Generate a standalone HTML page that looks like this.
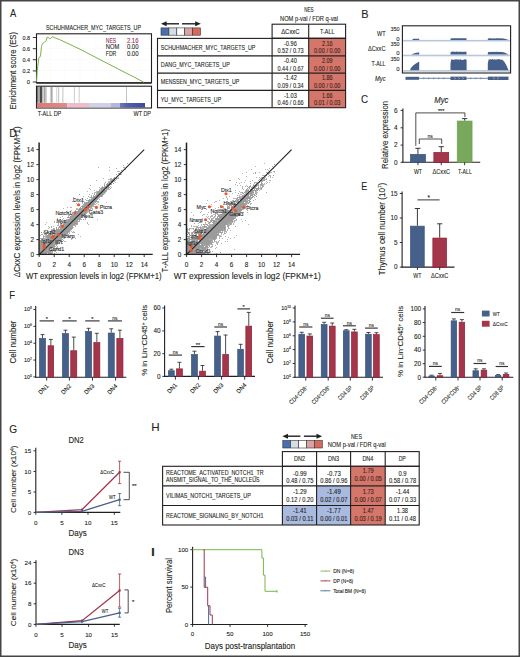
<!DOCTYPE html>
<html><head><meta charset="utf-8"><title>Figure</title>
<style>
html,body{margin:0;padding:0;background:#fff;}
svg{display:block;font-family:"Liberation Sans",sans-serif;}
text{stroke:#231f20;stroke-width:0.1px;}

</style></head><body>
<svg width="520" height="657" viewBox="0 0 520 657" fill="#231f20">
<rect x="0" y="0" width="520" height="657" fill="#ffffff"/>
<text font-size="11.4" transform="translate(9.88,17.00) scale(0.822,1)">A</text>
<text x="93.50" y="29.67" font-size="6.85" text-anchor="middle" textLength="95.00" lengthAdjust="spacingAndGlyphs">SCHUHMACHER_MYC_TARGETS_UP</text>
<line x1="50.00" y1="34.30" x2="50.00" y2="82.30" stroke="#f5f5f5" stroke-width="0.4" />
<line x1="65.00" y1="34.30" x2="65.00" y2="82.30" stroke="#f5f5f5" stroke-width="0.4" />
<line x1="80.00" y1="34.30" x2="80.00" y2="82.30" stroke="#f5f5f5" stroke-width="0.4" />
<line x1="95.00" y1="34.30" x2="95.00" y2="82.30" stroke="#f5f5f5" stroke-width="0.4" />
<line x1="110.00" y1="34.30" x2="110.00" y2="82.30" stroke="#f5f5f5" stroke-width="0.4" />
<line x1="125.00" y1="34.30" x2="125.00" y2="82.30" stroke="#f5f5f5" stroke-width="0.4" />
<line x1="140.00" y1="34.30" x2="140.00" y2="82.30" stroke="#f5f5f5" stroke-width="0.4" />
<line x1="37.00" y1="37.60" x2="151.00" y2="37.60" stroke="#f5f5f5" stroke-width="0.4" />
<line x1="37.00" y1="48.60" x2="151.00" y2="48.60" stroke="#f5f5f5" stroke-width="0.4" />
<line x1="37.00" y1="59.50" x2="151.00" y2="59.50" stroke="#f5f5f5" stroke-width="0.4" />
<line x1="37.00" y1="70.60" x2="151.00" y2="70.60" stroke="#f5f5f5" stroke-width="0.4" />
<rect x="36.50" y="33.80" width="115.00" height="49.00" fill="none" stroke="#231f20" stroke-width="1.1" />
<line x1="36.50" y1="82.90" x2="151.50" y2="82.90" stroke="#333" stroke-width="1.6" />
<line x1="32.80" y1="37.50" x2="36.50" y2="37.50" stroke="#231f20" stroke-width="0.9" />
<text x="30.00" y="39.58" font-size="5.78" text-anchor="end" textLength="7.60" lengthAdjust="spacingAndGlyphs">0.8</text>
<line x1="32.80" y1="48.70" x2="36.50" y2="48.70" stroke="#231f20" stroke-width="0.9" />
<text x="30.00" y="50.78" font-size="5.78" text-anchor="end" textLength="7.60" lengthAdjust="spacingAndGlyphs">0.6</text>
<line x1="32.80" y1="59.70" x2="36.50" y2="59.70" stroke="#231f20" stroke-width="0.9" />
<text x="30.00" y="61.78" font-size="5.78" text-anchor="end" textLength="7.60" lengthAdjust="spacingAndGlyphs">0.4</text>
<line x1="32.80" y1="70.90" x2="36.50" y2="70.90" stroke="#231f20" stroke-width="0.9" />
<text x="30.00" y="72.98" font-size="5.78" text-anchor="end" textLength="7.60" lengthAdjust="spacingAndGlyphs">0.2</text>
<line x1="32.80" y1="82.00" x2="36.50" y2="82.00" stroke="#231f20" stroke-width="0.9" />
<text x="30.00" y="84.08" font-size="5.78" text-anchor="end">0</text>
<text x="13.50" y="73.63" font-size="8.13" text-anchor="middle" textLength="77.50" lengthAdjust="spacingAndGlyphs" transform="rotate(-90 13.50 70.70)">Enrichment score (ES)</text>
<polyline points="36.5,81.6 37.2,70.7 38.3,62.6 38.7,58.0 39.8,57.4 40.6,55.1 41.5,46.5 42.5,43.6 44.4,42.4 46.1,40.7 47.1,37.2 48.5,37.5 49.4,38.6 50.8,38.4 52.5,36.7 54.8,37.8 59.4,39.5 80.0,49.2 100.0,59.6 126.0,73.0 135.0,77.5 143.8,82.3" fill="none" stroke="#79b34a" stroke-width="1"/>
<text x="105.80" y="43.19" font-size="6.63" textLength="10.40" lengthAdjust="spacingAndGlyphs" fill="#9b2f55" style="stroke:#9b2f55">NES</text>
<text x="126.90" y="43.19" font-size="6.63" textLength="11.60" lengthAdjust="spacingAndGlyphs" fill="#9b2f55" style="stroke:#9b2f55">2.16</text>
<text x="105.80" y="49.39" font-size="6.63" textLength="13.40" lengthAdjust="spacingAndGlyphs">NOM</text>
<text x="126.90" y="49.39" font-size="6.63" textLength="11.60" lengthAdjust="spacingAndGlyphs">0.00</text>
<text x="105.80" y="55.59" font-size="6.63" textLength="10.40" lengthAdjust="spacingAndGlyphs">FDR</text>
<text x="126.90" y="55.59" font-size="6.63" textLength="11.60" lengthAdjust="spacingAndGlyphs">0.00</text>
<rect x="36.50" y="86.20" width="115.00" height="21.80" fill="none" stroke="#231f20" stroke-width="1.1" />
<defs><linearGradient id="gb" x1="0" x2="1" y1="0" y2="0"><stop offset="0" stop-color="#7078ba"/><stop offset="0.3" stop-color="#5260a8"/><stop offset="1" stop-color="#3c4a9a"/></linearGradient><linearGradient id="gr" x1="0" x2="1" y1="0" y2="0"><stop offset="0" stop-color="#da7a74"/><stop offset="1" stop-color="#e08c88"/></linearGradient></defs>
<rect x="36.90" y="103.00" width="30.40" height="4.50" fill="url(#gr)" />
<rect x="67.30" y="103.00" width="21.70" height="4.50" fill="#eebccb" />
<rect x="89.00" y="103.00" width="21.50" height="4.50" fill="#d0d0e6" />
<rect x="110.50" y="103.00" width="9.50" height="4.50" fill="#b6b6da" />
<rect x="120.00" y="103.00" width="25.00" height="4.50" fill="url(#gb)" />
<line x1="37.60" y1="86.80" x2="37.60" y2="102.80" stroke="#222" stroke-width="0.6" />
<line x1="38.10" y1="86.80" x2="38.10" y2="102.80" stroke="#333" stroke-width="0.5" />
<line x1="38.80" y1="86.80" x2="38.80" y2="102.80" stroke="#888" stroke-width="0.5" />
<line x1="39.50" y1="86.80" x2="39.50" y2="102.80" stroke="#999" stroke-width="0.4" />
<line x1="40.20" y1="86.80" x2="40.20" y2="102.80" stroke="#111" stroke-width="0.7" />
<line x1="40.90" y1="86.80" x2="40.90" y2="102.80" stroke="#000" stroke-width="0.8" />
<line x1="41.60" y1="86.80" x2="41.60" y2="102.80" stroke="#111" stroke-width="0.7" />
<line x1="42.20" y1="86.80" x2="42.20" y2="102.80" stroke="#666" stroke-width="0.4" />
<line x1="43.00" y1="86.80" x2="43.00" y2="102.80" stroke="#888" stroke-width="0.5" />
<line x1="44.30" y1="86.80" x2="44.30" y2="102.80" stroke="#555" stroke-width="0.5" />
<line x1="44.90" y1="86.80" x2="44.90" y2="102.80" stroke="#666" stroke-width="0.5" />
<line x1="45.70" y1="86.80" x2="45.70" y2="102.80" stroke="#999" stroke-width="0.5" />
<line x1="46.40" y1="86.80" x2="46.40" y2="102.80" stroke="#aaa" stroke-width="0.5" />
<line x1="50.40" y1="86.80" x2="50.40" y2="102.80" stroke="#aaa" stroke-width="0.5" />
<line x1="51.20" y1="86.80" x2="51.20" y2="102.80" stroke="#999" stroke-width="0.5" />
<line x1="51.80" y1="86.80" x2="51.80" y2="102.80" stroke="#666" stroke-width="0.6" />
<line x1="52.40" y1="86.80" x2="52.40" y2="102.80" stroke="#aaa" stroke-width="0.5" />
<line x1="56.50" y1="86.80" x2="56.50" y2="102.80" stroke="#bbb" stroke-width="0.5" />
<line x1="58.30" y1="86.80" x2="58.30" y2="102.80" stroke="#999" stroke-width="0.5" />
<line x1="58.80" y1="86.80" x2="58.80" y2="102.80" stroke="#aaa" stroke-width="0.4" />
<line x1="62.50" y1="86.80" x2="62.50" y2="102.80" stroke="#bbb" stroke-width="0.5" />
<line x1="63.30" y1="86.80" x2="63.30" y2="102.80" stroke="#c4c4c4" stroke-width="0.5" />
<line x1="74.40" y1="86.80" x2="74.40" y2="102.80" stroke="#999" stroke-width="0.5" />
<line x1="79.20" y1="86.80" x2="79.20" y2="102.80" stroke="#999" stroke-width="0.5" />
<line x1="126.50" y1="86.80" x2="126.50" y2="102.80" stroke="#888" stroke-width="0.5" />
<text x="37.70" y="116.39" font-size="6.63" textLength="23.60" lengthAdjust="spacingAndGlyphs">T-ALL DP</text>
<text x="151.00" y="116.39" font-size="6.63" text-anchor="end" textLength="17.50" lengthAdjust="spacingAndGlyphs">WT DP</text>
<line x1="164.00" y1="23.80" x2="179.00" y2="23.80" stroke="#231f20" stroke-width="1.4" />
<path d="M161.0,23.8 L166.6,21.3 L166.6,26.3 Z" stroke="none" stroke-width="1" fill="#231f20" />
<line x1="182.00" y1="23.80" x2="198.00" y2="23.80" stroke="#231f20" stroke-width="1.4" />
<path d="M200.8,23.8 L195.2,21.3 L195.2,26.3 Z" stroke="none" stroke-width="1" fill="#231f20" />
<rect x="161.00" y="27.90" width="7.90" height="7.30" fill="#4a6fb0" stroke="#333" stroke-width="0.6" />
<rect x="168.90" y="27.90" width="7.90" height="7.30" fill="#d5dde6" stroke="#333" stroke-width="0.6" />
<rect x="176.80" y="27.90" width="7.90" height="7.30" fill="#ffffff" stroke="#333" stroke-width="0.6" />
<rect x="184.70" y="27.90" width="7.90" height="7.30" fill="#d9a3a3" stroke="#333" stroke-width="0.6" />
<rect x="192.60" y="27.90" width="7.90" height="7.30" fill="#d8695a" stroke="#333" stroke-width="0.6" />
<text x="308.90" y="12.49" font-size="6.63" text-anchor="middle" textLength="9.50" lengthAdjust="spacingAndGlyphs">NES</text>
<text x="309.00" y="20.61" font-size="6.42" text-anchor="middle" textLength="58.00" lengthAdjust="spacingAndGlyphs">NOM p-val / FDR q-val</text>
<rect x="272.10" y="24.20" width="73.50" height="14.00" fill="none" stroke="#231f20" stroke-width="1.1" />
<line x1="308.70" y1="24.20" x2="308.70" y2="38.20" stroke="#231f20" stroke-width="1.1" />
<text x="290.40" y="33.91" font-size="6.42" text-anchor="middle" textLength="18.50" lengthAdjust="spacingAndGlyphs">ΔCxxC</text>
<text x="327.20" y="33.91" font-size="6.42" text-anchor="middle" textLength="14.50" lengthAdjust="spacingAndGlyphs">T-ALL</text>
<rect x="308.70" y="38.40" width="36.90" height="17.40" fill="#d4776a" />
<text x="160.80" y="49.77" font-size="6.85" textLength="94.50" lengthAdjust="spacingAndGlyphs">SCHUHMACHER_MYC_TARGETS_UP</text>
<text x="290.40" y="45.59" font-size="6.63" text-anchor="middle" textLength="12.80" lengthAdjust="spacingAndGlyphs">-0.96</text>
<text x="290.60" y="53.19" font-size="6.63" text-anchor="middle" textLength="26.20" lengthAdjust="spacingAndGlyphs">0.52 / 0.73</text>
<text x="327.20" y="45.59" font-size="6.63" text-anchor="middle" textLength="10.60" lengthAdjust="spacingAndGlyphs" fill="#3b1c1a" style="stroke:#3b1c1a">2.16</text>
<text x="327.20" y="53.19" font-size="6.63" text-anchor="middle" textLength="26.50" lengthAdjust="spacingAndGlyphs" fill="#3b1c1a" style="stroke:#3b1c1a">0.00 / 0.00</text>
<rect x="308.70" y="55.80" width="36.90" height="17.30" fill="#d4776a" />
<text x="160.80" y="67.12" font-size="6.85" textLength="69.00" lengthAdjust="spacingAndGlyphs">DANG_MYC_TARGETS_UP</text>
<text x="290.40" y="62.94" font-size="6.63" text-anchor="middle" textLength="12.80" lengthAdjust="spacingAndGlyphs">-0.40</text>
<text x="290.60" y="70.54" font-size="6.63" text-anchor="middle" textLength="26.20" lengthAdjust="spacingAndGlyphs">0.44 / 0.67</text>
<text x="327.20" y="62.94" font-size="6.63" text-anchor="middle" textLength="10.60" lengthAdjust="spacingAndGlyphs" fill="#3b1c1a" style="stroke:#3b1c1a">2.09</text>
<text x="327.20" y="70.54" font-size="6.63" text-anchor="middle" textLength="26.50" lengthAdjust="spacingAndGlyphs" fill="#3b1c1a" style="stroke:#3b1c1a">0.00 / 0.00</text>
<rect x="308.70" y="73.10" width="36.90" height="17.30" fill="#d4776a" />
<text x="160.80" y="84.42" font-size="6.85" textLength="78.50" lengthAdjust="spacingAndGlyphs">MENSSEN_MYC_TARGETS_UP</text>
<text x="290.40" y="80.24" font-size="6.63" text-anchor="middle" textLength="12.80" lengthAdjust="spacingAndGlyphs">-1.42</text>
<text x="290.60" y="87.84" font-size="6.63" text-anchor="middle" textLength="26.20" lengthAdjust="spacingAndGlyphs">0.09 / 0.34</text>
<text x="327.20" y="80.24" font-size="6.63" text-anchor="middle" textLength="10.60" lengthAdjust="spacingAndGlyphs" fill="#3b1c1a" style="stroke:#3b1c1a">1.86</text>
<text x="327.20" y="87.84" font-size="6.63" text-anchor="middle" textLength="26.50" lengthAdjust="spacingAndGlyphs" fill="#3b1c1a" style="stroke:#3b1c1a">0.00 / 0.00</text>
<rect x="308.70" y="90.40" width="36.90" height="17.30" fill="#d4776a" />
<text x="160.80" y="101.72" font-size="6.85" textLength="60.50" lengthAdjust="spacingAndGlyphs">YU_MYC_TARGETS_UP</text>
<text x="290.40" y="97.54" font-size="6.63" text-anchor="middle" textLength="12.80" lengthAdjust="spacingAndGlyphs">-1.03</text>
<text x="290.60" y="105.14" font-size="6.63" text-anchor="middle" textLength="26.20" lengthAdjust="spacingAndGlyphs">0.46 / 0.66</text>
<text x="327.20" y="97.54" font-size="6.63" text-anchor="middle" textLength="10.60" lengthAdjust="spacingAndGlyphs" fill="#3b1c1a" style="stroke:#3b1c1a">1.66</text>
<text x="327.20" y="105.14" font-size="6.63" text-anchor="middle" textLength="26.50" lengthAdjust="spacingAndGlyphs" fill="#3b1c1a" style="stroke:#3b1c1a">0.01 / 0.03</text>
<rect x="157.50" y="38.40" width="188.10" height="69.30" fill="none" stroke="#231f20" stroke-width="1.1" />
<line x1="157.50" y1="55.80" x2="345.60" y2="55.80" stroke="#231f20" stroke-width="1.2" />
<line x1="157.50" y1="73.10" x2="345.60" y2="73.10" stroke="#231f20" stroke-width="1.2" />
<line x1="157.50" y1="90.40" x2="345.60" y2="90.40" stroke="#231f20" stroke-width="1.2" />
<line x1="272.10" y1="38.40" x2="272.10" y2="107.70" stroke="#231f20" stroke-width="1.1" />
<line x1="308.70" y1="38.40" x2="308.70" y2="107.70" stroke="#231f20" stroke-width="1.1" />
<text font-size="11.4" transform="translate(361.30,17.50) scale(0.958,1)">B</text>
<rect x="402.40" y="25.80" width="108.20" height="47.20" fill="none" stroke="#231f20" stroke-width="1.1" />
<text x="385.50" y="35.99" font-size="6.63" text-anchor="end" textLength="8.50" lengthAdjust="spacingAndGlyphs">WT</text>
<text x="385.50" y="51.49" font-size="6.63" text-anchor="end" textLength="17.50" lengthAdjust="spacingAndGlyphs">ΔCxxC</text>
<text x="385.50" y="66.19" font-size="6.63" text-anchor="end" textLength="14.00" lengthAdjust="spacingAndGlyphs">T-ALL</text>
<text x="385.50" y="80.59" font-size="6.63" text-anchor="end" textLength="10.50" lengthAdjust="spacingAndGlyphs" font-style="italic">Myc</text>
<text x="399.50" y="30.76" font-size="5.99" text-anchor="end" textLength="9.00" lengthAdjust="spacingAndGlyphs">350</text>
<text x="399.50" y="46.26" font-size="5.99" text-anchor="end" textLength="9.00" lengthAdjust="spacingAndGlyphs">350</text>
<text x="399.50" y="60.76" font-size="5.99" text-anchor="end" textLength="9.00" lengthAdjust="spacingAndGlyphs">350</text>
<text x="399.50" y="40.76" font-size="5.99" text-anchor="end">0</text>
<text x="399.50" y="55.16" font-size="5.99" text-anchor="end">0</text>
<text x="399.50" y="71.06" font-size="5.99" text-anchor="end">0</text>
<rect x="403.00" y="39.90" width="107.00" height="1.60" fill="#b7c7dc" />
<rect x="403.00" y="54.70" width="107.00" height="1.60" fill="#b7c7dc" />
<rect x="403.00" y="70.10" width="107.00" height="1.60" fill="#b7c7dc" />
<path d="M412.50,39.90 L412.50,39.18 L413.24,38.72 L413.99,38.73 L414.73,38.79 L415.48,38.76 L416.22,38.77 L416.97,38.74 L417.71,38.73 L418.46,38.81 L419.20,38.82 L419.20,39.90 Z" stroke="none" stroke-width="1" fill="#47608a" />
<path d="M450.50,39.90 L450.50,38.88 L451.26,38.21 L452.02,38.36 L452.79,38.36 L453.55,38.23 L454.31,38.24 L455.07,38.26 L455.83,38.32 L456.60,38.27 L457.36,38.27 L458.12,38.27 L458.88,38.34 L459.64,38.30 L460.40,38.30 L461.17,38.25 L461.93,38.20 L462.69,38.21 L463.45,38.28 L464.21,38.29 L464.98,38.32 L465.74,38.36 L466.50,38.37 L466.50,39.90 Z" stroke="none" stroke-width="1" fill="#47608a" />
<path d="M487.80,39.90 L487.80,38.94 L488.60,38.35 L489.39,38.37 L490.19,38.34 L490.98,38.34 L491.78,38.40 L492.58,38.41 L493.37,38.32 L494.17,38.38 L494.97,38.39 L495.76,38.30 L496.56,38.36 L497.35,38.32 L498.15,38.36 L498.95,38.34 L499.74,38.40 L500.54,38.34 L501.33,38.34 L502.13,38.44 L502.93,38.50 L503.72,38.62 L504.52,38.81 L505.32,38.92 L506.11,39.13 L506.91,39.37 L507.70,39.63 L508.50,39.90 L508.50,39.90 Z" stroke="none" stroke-width="1" fill="#47608a" />
<path d="M411.50,54.60 L411.50,54.60 L412.27,54.02 L413.04,53.70 L413.81,53.48 L414.58,53.28 L415.35,53.05 L416.12,52.79 L416.89,52.64 L417.66,52.48 L418.43,52.42 L419.20,52.29 L419.20,54.60 Z" stroke="none" stroke-width="1" fill="#47608a" />
<path d="M450.50,54.60 L450.50,52.80 L451.26,51.68 L452.02,51.66 L452.79,51.62 L453.55,51.68 L454.31,51.62 L455.07,51.89 L455.83,51.76 L456.60,51.62 L457.36,51.71 L458.12,51.63 L458.88,51.87 L459.64,51.76 L460.40,51.83 L461.17,51.74 L461.93,51.73 L462.69,51.90 L463.45,51.83 L464.21,51.82 L464.98,51.63 L465.74,51.67 L466.50,51.85 L466.50,54.60 Z" stroke="none" stroke-width="1" fill="#47608a" />
<path d="M487.80,54.60 L487.80,52.92 L488.60,51.83 L489.39,51.90 L490.19,51.94 L490.98,52.00 L491.78,51.87 L492.58,51.90 L493.37,51.85 L494.17,51.92 L494.97,51.85 L495.76,51.94 L496.56,51.84 L497.35,51.85 L498.15,51.91 L498.95,51.89 L499.74,51.86 L500.54,51.96 L501.33,51.94 L502.13,51.99 L502.93,52.23 L503.72,52.33 L504.52,52.60 L505.32,52.88 L506.11,53.28 L506.91,53.69 L507.70,54.09 L508.50,54.60 L508.50,54.60 Z" stroke="none" stroke-width="1" fill="#47608a" />
<path d="M410.00,70.20 L410.00,70.20 L410.77,68.26 L411.53,67.13 L412.30,66.47 L413.07,65.58 L413.83,65.00 L414.60,64.55 L415.37,63.76 L416.13,63.49 L416.90,62.76 L417.67,62.51 L418.43,62.04 L419.20,61.61 L419.20,70.20 Z" stroke="none" stroke-width="1" fill="#47608a" />
<path d="M450.50,70.20 L450.50,63.42 L451.27,58.94 L452.03,59.89 L452.80,59.23 L453.57,59.93 L454.33,59.75 L455.10,58.90 L455.87,59.79 L456.63,59.30 L457.40,59.51 L458.17,59.52 L458.93,59.47 L459.70,59.81 L460.47,59.09 L461.23,59.93 L462.00,59.77 L462.77,60.01 L463.53,59.73 L464.30,59.57 L465.07,59.01 L465.83,59.60 L466.60,59.90 L466.60,70.20 Z" stroke="none" stroke-width="1" fill="#47608a" />
<path d="M487.80,70.20 L487.80,63.42 L488.60,59.40 L489.39,59.58 L490.19,59.01 L490.98,59.69 L491.78,59.29 L492.58,58.98 L493.37,59.63 L494.17,59.25 L494.97,59.20 L495.76,59.66 L496.56,59.39 L497.35,59.13 L498.15,59.33 L498.95,59.12 L499.74,59.57 L500.54,59.52 L501.33,59.80 L502.13,59.87 L502.93,60.16 L503.72,61.19 L504.52,62.08 L505.32,63.48 L506.11,64.72 L506.91,66.52 L507.70,68.23 L508.50,70.20 L508.50,70.20 Z" stroke="none" stroke-width="1" fill="#47608a" />
<line x1="418.80" y1="78.30" x2="487.80" y2="78.30" stroke="#47608a" stroke-width="0.8" />
<rect x="405.50" y="76.80" width="13.50" height="3.00" fill="#47608a" />
<rect x="450.50" y="76.60" width="16.00" height="3.40" fill="#47608a" />
<rect x="487.80" y="76.60" width="20.70" height="3.40" fill="#47608a" />
<path d="M423.4,77.4 L424.4,78.3 L423.4,79.2" stroke="#47608a" stroke-width="0.5" fill="none" />
<path d="M428.4,77.4 L429.4,78.3 L428.4,79.2" stroke="#47608a" stroke-width="0.5" fill="none" />
<path d="M433.4,77.4 L434.4,78.3 L433.4,79.2" stroke="#47608a" stroke-width="0.5" fill="none" />
<path d="M438.4,77.4 L439.4,78.3 L438.4,79.2" stroke="#47608a" stroke-width="0.5" fill="none" />
<path d="M443.4,77.4 L444.4,78.3 L443.4,79.2" stroke="#47608a" stroke-width="0.5" fill="none" />
<path d="M470.4,77.4 L471.4,78.3 L470.4,79.2" stroke="#47608a" stroke-width="0.5" fill="none" />
<path d="M475.4,77.4 L476.4,78.3 L475.4,79.2" stroke="#47608a" stroke-width="0.5" fill="none" />
<path d="M480.4,77.4 L481.4,78.3 L480.4,79.2" stroke="#47608a" stroke-width="0.5" fill="none" />
<path d="M454.5,77.5 L455.4,78.3 L454.5,79.1" stroke="#ffffff" stroke-width="0.5" fill="none" />
<path d="M458.5,77.5 L459.4,78.3 L458.5,79.1" stroke="#ffffff" stroke-width="0.5" fill="none" />
<path d="M462.5,77.5 L463.4,78.3 L462.5,79.1" stroke="#ffffff" stroke-width="0.5" fill="none" />
<path d="M493.5,77.5 L494.4,78.3 L493.5,79.1" stroke="#ffffff" stroke-width="0.5" fill="none" />
<path d="M497.5,77.5 L498.4,78.3 L497.5,79.1" stroke="#ffffff" stroke-width="0.5" fill="none" />
<text font-size="11.4" transform="translate(361.10,102.50) scale(0.861,1)">C</text>
<text x="441.30" y="103.38" font-size="8.56" text-anchor="middle" textLength="14.20" lengthAdjust="spacingAndGlyphs" font-style="italic">Myc</text>
<line x1="402.90" y1="108.50" x2="402.90" y2="162.60" stroke="#231f20" stroke-width="1.1" />
<line x1="402.40" y1="162.30" x2="480.20" y2="162.30" stroke="#231f20" stroke-width="1.1" />
<line x1="400.60" y1="110.40" x2="402.90" y2="110.40" stroke="#231f20" stroke-width="0.9" />
<text x="397.70" y="112.71" font-size="6.42" text-anchor="end">6</text>
<line x1="400.60" y1="127.80" x2="402.90" y2="127.80" stroke="#231f20" stroke-width="0.9" />
<text x="397.70" y="130.11" font-size="6.42" text-anchor="end">4</text>
<line x1="400.60" y1="145.10" x2="402.90" y2="145.10" stroke="#231f20" stroke-width="0.9" />
<text x="397.70" y="147.41" font-size="6.42" text-anchor="end">2</text>
<line x1="400.60" y1="162.30" x2="402.90" y2="162.30" stroke="#231f20" stroke-width="0.9" />
<text x="397.70" y="164.61" font-size="6.42" text-anchor="end">0</text>
<text x="384.90" y="137.83" font-size="8.13" text-anchor="middle" textLength="68.00" lengthAdjust="spacingAndGlyphs" transform="rotate(-90 384.90 134.90)">Relative expression</text>
<line x1="417.95" y1="148.30" x2="417.95" y2="154.00" stroke="#231f20" stroke-width="0.9" />
<line x1="415.35" y1="148.30" x2="420.55" y2="148.30" stroke="#231f20" stroke-width="0.9" />
<rect x="410.45" y="154.35" width="15.00" height="7.95" fill="#47608a" stroke="#37527f" stroke-width="0.7" />
<line x1="417.95" y1="162.30" x2="417.95" y2="165.20" stroke="#231f20" stroke-width="0.9" />
<line x1="441.25" y1="146.70" x2="441.25" y2="152.10" stroke="#231f20" stroke-width="0.9" />
<line x1="438.65" y1="146.70" x2="443.85" y2="146.70" stroke="#231f20" stroke-width="0.9" />
<rect x="433.85" y="152.45" width="14.80" height="9.85" fill="#a3364a" stroke="#951b33" stroke-width="0.7" />
<line x1="441.25" y1="162.30" x2="441.25" y2="165.20" stroke="#231f20" stroke-width="0.9" />
<line x1="464.65" y1="118.60" x2="464.65" y2="120.70" stroke="#231f20" stroke-width="0.9" />
<line x1="462.05" y1="118.60" x2="467.25" y2="118.60" stroke="#231f20" stroke-width="0.9" />
<rect x="457.25" y="121.05" width="14.80" height="41.25" fill="#77a85b" stroke="#68a049" stroke-width="0.7" />
<line x1="464.65" y1="162.30" x2="464.65" y2="165.20" stroke="#231f20" stroke-width="0.9" />
<text x="418.00" y="174.11" font-size="6.42" text-anchor="middle" textLength="8.20" lengthAdjust="spacingAndGlyphs">WT</text>
<text x="441.30" y="174.11" font-size="6.42" text-anchor="middle" textLength="17.50" lengthAdjust="spacingAndGlyphs">ΔCxxC</text>
<text x="464.90" y="174.11" font-size="6.42" text-anchor="middle" textLength="14.00" lengthAdjust="spacingAndGlyphs">T-ALL</text>
<path d="M415.8,145.8 L415.8,112.9 L464.9,112.9 L464.9,117.1" stroke="#231f20" stroke-width="0.8" fill="none" />
<path d="M419.3,144.0 L419.3,139.0 L441.7,139.0 L441.7,144.0" stroke="#231f20" stroke-width="0.8" fill="none" />
<text x="441.20" y="112.88" font-size="5.78" text-anchor="middle" textLength="6.50" lengthAdjust="spacingAndGlyphs">***</text>
<text x="430.20" y="138.40" font-size="5.56" text-anchor="middle" textLength="5.40" lengthAdjust="spacingAndGlyphs">ns</text>
<text font-size="11.4" transform="translate(361.27,190.00) scale(0.778,1)">E</text>
<line x1="402.10" y1="191.50" x2="402.10" y2="267.40" stroke="#231f20" stroke-width="1.1" />
<line x1="401.60" y1="267.10" x2="454.50" y2="267.10" stroke="#231f20" stroke-width="1.1" />
<line x1="399.80" y1="193.50" x2="402.10" y2="193.50" stroke="#231f20" stroke-width="0.9" />
<text x="397.70" y="195.81" font-size="6.42" text-anchor="end">15</text>
<line x1="399.80" y1="218.00" x2="402.10" y2="218.00" stroke="#231f20" stroke-width="0.9" />
<text x="397.70" y="220.31" font-size="6.42" text-anchor="end">10</text>
<line x1="399.80" y1="242.50" x2="402.10" y2="242.50" stroke="#231f20" stroke-width="0.9" />
<text x="397.70" y="244.81" font-size="6.42" text-anchor="end">5</text>
<line x1="399.80" y1="267.10" x2="402.10" y2="267.10" stroke="#231f20" stroke-width="0.9" />
<text x="397.70" y="269.41" font-size="6.42" text-anchor="end">0</text>
<text x="381.90" y="231.93" font-size="8.13" text-anchor="middle" transform="rotate(-90 381.90 229.00)">Thymus cell number (10<tspan dy="-2.4" font-size="4.6">7</tspan><tspan dy="2.4">)</tspan></text>
<line x1="417.40" y1="208.50" x2="417.40" y2="225.80" stroke="#231f20" stroke-width="0.9" />
<line x1="414.80" y1="208.50" x2="420.00" y2="208.50" stroke="#231f20" stroke-width="0.9" />
<rect x="410.55" y="226.15" width="13.70" height="40.95" fill="#47608a" stroke="#37527f" stroke-width="0.7" />
<line x1="417.40" y1="267.10" x2="417.40" y2="270.00" stroke="#231f20" stroke-width="0.9" />
<line x1="439.70" y1="223.80" x2="439.70" y2="237.70" stroke="#231f20" stroke-width="0.9" />
<line x1="437.10" y1="223.80" x2="442.30" y2="223.80" stroke="#231f20" stroke-width="0.9" />
<rect x="432.85" y="238.05" width="13.70" height="29.05" fill="#a3364a" stroke="#951b33" stroke-width="0.7" />
<line x1="439.70" y1="267.10" x2="439.70" y2="270.00" stroke="#231f20" stroke-width="0.9" />
<line x1="417.50" y1="199.90" x2="439.60" y2="199.90" stroke="#231f20" stroke-width="0.9" />
<text x="428.70" y="199.81" font-size="6.42" text-anchor="middle">*</text>
<text x="417.40" y="278.41" font-size="6.42" text-anchor="middle" textLength="8.20" lengthAdjust="spacingAndGlyphs">WT</text>
<text x="439.70" y="278.41" font-size="6.42" text-anchor="middle" textLength="17.50" lengthAdjust="spacingAndGlyphs">ΔCxxC</text>
<text font-size="11.4" transform="translate(9.14,136.60) scale(0.920,1)">D</text>
<path d="M48 228h1v1h-1zM53 228h2v1h-2zM72 228h1v1h-1zM103 178h1v1h-1zM110 178h2v1h-2zM113 178h1v1h-1zM116 178h3v1h-3zM45 224h1v1h-1zM58 224h1v1h-1zM60 224h2v1h-2zM75 224h1v1h-1zM77 224h1v1h-1zM88 224h1v1h-1zM94 204h2v1h-2zM98 204h1v1h-1zM67 207h1v1h-1zM70 207h2v1h-2zM90 207h1v1h-1zM104 183h1v1h-1zM108 183h1v1h-1zM110 183h2v1h-2zM80 199h1v1h-1zM82 199h1v1h-1zM85 199h1v1h-1zM90 199h1v1h-1zM99 199h1v1h-1zM57 218h1v1h-1zM63 218h1v1h-1zM69 218h1v1h-1zM85 218h1v1h-1zM62 216h1v1h-1zM68 216h1v1h-1zM83 216h3v1h-3zM40 235h1v1h-1zM43 235h1v1h-1zM45 235h2v1h-2zM51 235h1v1h-1zM54 235h1v1h-1zM66 235h2v1h-2zM70 235h1v1h-1zM83 196h1v1h-1zM88 196h1v1h-1zM91 196h1v1h-1zM102 196h1v1h-1zM41 240h1v1h-1zM43 240h1v1h-1zM60 240h1v1h-1zM63 240h1v1h-1zM90 189h1v1h-1zM99 189h2v1h-2zM107 189h3v1h-3zM60 219h1v1h-1zM62 219h1v1h-1zM66 219h2v1h-2zM80 219h2v1h-2zM85 219h1v1h-1zM97 219h1v1h-1zM58 223h1v1h-1zM63 223h1v1h-1zM87 223h1v1h-1zM73 197h1v1h-1zM89 197h2v1h-2zM92 197h1v1h-1zM41 234h1v1h-1zM44 234h2v1h-2zM67 234h2v1h-2zM78 234h1v1h-1zM62 241h1v1h-1zM64 241h2v1h-2zM43 232h2v1h-2zM47 232h1v1h-1zM54 232h1v1h-1zM68 232h2v1h-2zM72 232h3v1h-3zM117 171h3v1h-3zM58 220h1v1h-1zM66 220h1v1h-1zM87 191h1v1h-1zM96 191h2v1h-2zM106 191h1v1h-1zM108 179h4v1h-4zM113 179h2v1h-2zM116 179h1v1h-1zM94 192h3v1h-3zM105 192h1v1h-1zM54 221h1v1h-1zM60 221h2v1h-2zM79 221h1v1h-1zM96 180h1v1h-1zM110 180h1v1h-1zM113 180h3v1h-3zM63 208h1v1h-1zM76 208h2v1h-2zM90 208h3v1h-3zM89 188h1v1h-1zM100 188h1v1h-1zM107 188h1v1h-1zM68 215h2v1h-2zM71 215h1v1h-1zM85 215h1v1h-1zM53 230h2v1h-2zM70 230h1v1h-1zM82 202h1v1h-1zM85 202h1v1h-1zM94 202h1v1h-1zM97 202h2v1h-2zM106 202h1v1h-1zM40 238h2v1h-2zM44 238h3v1h-3zM63 238h2v1h-2zM71 238h1v1h-1zM75 238h1v1h-1zM46 222h1v1h-1zM54 222h1v1h-1zM56 222h1v1h-1zM60 222h1v1h-1zM62 222h3v1h-3zM77 222h1v1h-1zM87 222h1v1h-1zM76 203h1v1h-1zM82 203h1v1h-1zM94 203h1v1h-1zM96 203h1v1h-1zM71 210h1v1h-1zM75 210h1v1h-1zM88 210h2v1h-2zM100 210h1v1h-1zM48 226h1v1h-1zM51 226h1v1h-1zM53 226h1v1h-1zM75 226h1v1h-1zM66 211h1v1h-1zM87 211h2v1h-2zM99 187h1v1h-1zM101 187h1v1h-1zM107 187h1v1h-1zM111 187h1v1h-1zM57 244h1v1h-1zM72 201h1v1h-1zM74 201h1v1h-1zM97 201h2v1h-2zM120 172h2v1h-2zM91 195h1v1h-1zM93 195h1v1h-1zM95 195h1v1h-1zM102 195h1v1h-1zM45 237h2v1h-2zM63 237h1v1h-1zM65 237h1v1h-1zM72 237h1v1h-1zM41 242h1v1h-1zM48 242h1v1h-1zM59 242h1v1h-1zM41 239h1v1h-1zM43 239h1v1h-1zM49 239h1v1h-1zM61 239h1v1h-1zM71 239h1v1h-1zM54 247h1v1h-1zM56 247h2v1h-2zM77 205h1v1h-1zM82 205h2v1h-2zM93 205h1v1h-1zM51 251h1v1h-1zM54 251h2v1h-2zM108 182h1v1h-1zM115 182h1v1h-1zM102 186h1v1h-1zM104 186h1v1h-1zM110 186h1v1h-1zM90 185h1v1h-1zM106 185h1v1h-1zM49 253h1v1h-1zM52 253h1v1h-1zM53 248h1v1h-1zM55 248h4v1h-4zM51 229h2v1h-2zM87 198h1v1h-1zM91 198h1v1h-1zM92 193h1v1h-1zM94 193h1v1h-1zM96 193h1v1h-1zM103 193h1v1h-1zM52 249h2v1h-2zM56 249h1v1h-1zM58 249h1v1h-1zM60 217h1v1h-1zM69 217h1v1h-1zM82 217h1v1h-1zM85 217h2v1h-2zM47 250h1v1h-1zM54 250h1v1h-1zM76 209h2v1h-2zM90 209h1v1h-1zM92 209h1v1h-1zM109 170h1v1h-1zM59 214h1v1h-1zM72 214h1v1h-1zM84 214h1v1h-1zM90 214h1v1h-1zM116 174h1v1h-1zM121 174h1v1h-1zM118 173h2v1h-2zM81 200h1v1h-1zM86 200h2v1h-2zM67 213h2v1h-2zM74 213h1v1h-1zM86 213h1v1h-1zM45 233h3v1h-3zM69 233h1v1h-1zM108 181h2v1h-2zM112 181h1v1h-1zM114 181h1v1h-1zM51 252h2v1h-2zM56 252h1v1h-1zM68 212h1v1h-1zM72 212h1v1h-1zM74 212h1v1h-1zM87 212h1v1h-1zM58 227h1v1h-1zM73 227h1v1h-1zM127 163h1v1h-1zM57 225h2v1h-2zM61 225h1v1h-1zM73 225h1v1h-1zM75 225h1v1h-1zM98 167h1v1h-1zM109 167h1v1h-1zM123 167h2v1h-2zM126 167h1v1h-1zM54 243h1v1h-1zM61 243h1v1h-1zM46 245h1v1h-1zM92 206h3v1h-3zM116 168h1v1h-1zM44 236h2v1h-2zM80 236h1v1h-1zM123 165h1v1h-1zM104 184h1v1h-1zM118 177h1v1h-1zM89 194h1v1h-1zM94 190h1v1h-1zM100 190h1v1h-1zM50 231h1v1h-1zM71 231h1v1h-1zM73 231h1v1h-1zM125 169h1v1h-1zM55 246h1v1h-1zM57 246h1v1h-1z" fill="#b4b4b4"/>
<path d="M42 239h1v1h-1zM44 239h5v1h-5zM50 239h11v1h-11zM62 239h1v1h-1zM63 224h12v1h-12zM76 224h1v1h-1zM42 234h1v1h-1zM46 234h1v1h-1zM48 234h5v1h-5zM54 234h13v1h-13zM40 246h15v1h-15zM40 245h6v1h-6zM47 245h8v1h-8zM56 245h1v1h-1zM65 222h12v1h-12zM40 248h12v1h-12zM105 182h1v1h-1zM109 182h1v1h-1zM111 182h2v1h-2zM110 181h2v1h-2zM113 181h1v1h-1zM64 221h15v1h-15zM49 227h1v1h-1zM51 227h1v1h-1zM56 227h1v1h-1zM59 227h14v1h-14zM60 225h1v1h-1zM62 225h11v1h-11zM74 225h1v1h-1zM40 249h10v1h-10zM51 249h1v1h-1zM54 249h2v1h-2zM60 223h2v1h-2zM64 223h14v1h-14zM88 201h9v1h-9zM79 208h10v1h-10zM106 184h6v1h-6zM42 238h2v1h-2zM47 238h15v1h-15zM80 207h1v1h-1zM82 207h8v1h-8zM91 207h1v1h-1zM72 213h1v1h-1zM75 213h11v1h-11zM79 194h1v1h-1zM94 194h1v1h-1zM96 194h8v1h-8zM78 210h10v1h-10zM81 206h11v1h-11zM49 233h2v1h-2zM52 233h16v1h-16zM41 232h1v1h-1zM50 232h4v1h-4zM55 232h13v1h-13zM40 244h17v1h-17zM47 231h1v1h-1zM51 231h19v1h-19zM96 195h6v1h-6zM53 229h2v1h-2zM56 229h16v1h-16zM72 215h12v1h-12zM59 226h14v1h-14zM70 216h13v1h-13zM56 228h1v1h-1zM58 228h1v1h-1zM60 228h12v1h-12zM70 218h11v1h-11zM40 252h11v1h-11zM40 242h1v1h-1zM42 242h6v1h-6zM49 242h10v1h-10zM40 243h14v1h-14zM55 243h5v1h-5zM62 243h1v1h-1zM40 247h14v1h-14zM71 214h1v1h-1zM73 214h11v1h-11zM85 214h1v1h-1zM84 205h9v1h-9zM84 202h1v1h-1zM86 202h8v1h-8zM95 202h1v1h-1zM75 212h12v1h-12zM40 251h11v1h-11zM52 251h1v1h-1zM40 253h7v1h-7zM48 253h1v1h-1zM50 253h2v1h-2zM54 253h1v1h-1zM43 236h1v1h-1zM46 236h18v1h-18zM40 241h2v1h-2zM43 241h16v1h-16zM60 241h2v1h-2zM43 237h1v1h-1zM47 237h16v1h-16zM64 237h1v1h-1zM51 230h2v1h-2zM55 230h15v1h-15zM84 203h10v1h-10zM78 209h12v1h-12zM64 220h2v1h-2zM67 220h11v1h-11zM79 220h1v1h-1zM40 240h1v1h-1zM42 240h1v1h-1zM44 240h1v1h-1zM46 240h14v1h-14zM61 240h1v1h-1zM40 250h7v1h-7zM48 250h6v1h-6zM55 250h1v1h-1zM92 198h7v1h-7zM111 180h2v1h-2zM47 235h4v1h-4zM52 235h2v1h-2zM55 235h11v1h-11zM93 196h9v1h-9zM67 217h2v1h-2zM70 217h12v1h-12zM105 186h4v1h-4zM97 192h8v1h-8zM83 204h11v1h-11zM75 211h12v1h-12zM91 197h1v1h-1zM93 197h7v1h-7zM88 200h9v1h-9zM101 188h6v1h-6zM108 188h1v1h-1zM110 188h1v1h-1zM89 199h1v1h-1zM91 199h7v1h-7zM97 193h6v1h-6zM104 193h1v1h-1zM107 183h1v1h-1zM109 183h1v1h-1zM113 183h1v1h-1zM68 219h12v1h-12zM83 219h1v1h-1zM98 191h8v1h-8zM102 187h5v1h-5zM108 187h2v1h-2zM120 174h1v1h-1zM114 178h2v1h-2zM104 185h1v1h-1zM107 185h3v1h-3zM99 190h1v1h-1zM101 190h6v1h-6zM101 189h4v1h-4zM106 189h1v1h-1zM121 170h1v1h-1zM114 177h1v1h-1zM112 179h1v1h-1z" fill="#9b9b9b"/>
<line x1="39.20" y1="254.60" x2="144.20" y2="149.60" stroke="#231f20" stroke-width="1.1" />
<line x1="39.10" y1="255.20" x2="39.10" y2="142.60" stroke="#231f20" stroke-width="1.5" />
<line x1="38.40" y1="254.40" x2="152.70" y2="254.40" stroke="#231f20" stroke-width="1.4" />
<line x1="36.40" y1="254.60" x2="38.80" y2="254.60" stroke="#231f20" stroke-width="0.9" />
<text x="34.00" y="256.91" font-size="6.42" text-anchor="end">0</text>
<line x1="39.20" y1="254.60" x2="39.20" y2="257.10" stroke="#231f20" stroke-width="0.9" />
<text x="39.20" y="266.71" font-size="6.42" text-anchor="middle">0</text>
<line x1="36.40" y1="239.60" x2="38.80" y2="239.60" stroke="#231f20" stroke-width="0.9" />
<text x="34.00" y="241.91" font-size="6.42" text-anchor="end">2</text>
<line x1="54.20" y1="254.60" x2="54.20" y2="257.10" stroke="#231f20" stroke-width="0.9" />
<text x="54.20" y="266.71" font-size="6.42" text-anchor="middle">2</text>
<line x1="36.40" y1="224.60" x2="38.80" y2="224.60" stroke="#231f20" stroke-width="0.9" />
<text x="34.00" y="226.91" font-size="6.42" text-anchor="end">4</text>
<line x1="69.20" y1="254.60" x2="69.20" y2="257.10" stroke="#231f20" stroke-width="0.9" />
<text x="69.20" y="266.71" font-size="6.42" text-anchor="middle">4</text>
<line x1="36.40" y1="209.60" x2="38.80" y2="209.60" stroke="#231f20" stroke-width="0.9" />
<text x="34.00" y="211.91" font-size="6.42" text-anchor="end">6</text>
<line x1="84.20" y1="254.60" x2="84.20" y2="257.10" stroke="#231f20" stroke-width="0.9" />
<text x="84.20" y="266.71" font-size="6.42" text-anchor="middle">6</text>
<line x1="36.40" y1="194.60" x2="38.80" y2="194.60" stroke="#231f20" stroke-width="0.9" />
<text x="34.00" y="196.91" font-size="6.42" text-anchor="end">8</text>
<line x1="99.20" y1="254.60" x2="99.20" y2="257.10" stroke="#231f20" stroke-width="0.9" />
<text x="99.20" y="266.71" font-size="6.42" text-anchor="middle">8</text>
<line x1="36.40" y1="179.60" x2="38.80" y2="179.60" stroke="#231f20" stroke-width="0.9" />
<text x="34.00" y="181.91" font-size="6.42" text-anchor="end">10</text>
<line x1="114.20" y1="254.60" x2="114.20" y2="257.10" stroke="#231f20" stroke-width="0.9" />
<text x="114.20" y="266.71" font-size="6.42" text-anchor="middle">10</text>
<line x1="36.40" y1="164.60" x2="38.80" y2="164.60" stroke="#231f20" stroke-width="0.9" />
<text x="34.00" y="166.91" font-size="6.42" text-anchor="end">12</text>
<line x1="129.20" y1="254.60" x2="129.20" y2="257.10" stroke="#231f20" stroke-width="0.9" />
<text x="129.20" y="266.71" font-size="6.42" text-anchor="middle">12</text>
<line x1="36.40" y1="149.60" x2="38.80" y2="149.60" stroke="#231f20" stroke-width="0.9" />
<text x="34.00" y="151.91" font-size="6.42" text-anchor="end">14</text>
<line x1="144.20" y1="254.60" x2="144.20" y2="257.10" stroke="#231f20" stroke-width="0.9" />
<text x="144.20" y="266.71" font-size="6.42" text-anchor="middle">14</text>
<text x="17.50" y="204.83" font-size="8.13" text-anchor="middle" textLength="150.90" lengthAdjust="spacingAndGlyphs" transform="rotate(-90 17.50 201.90)">ΔCxxC expression levels in log2 (FPKM+1)</text>
<text x="26.00" y="278.53" font-size="8.13" textLength="135.50" lengthAdjust="spacingAndGlyphs">WT expression levels in log2 (FPKM+1)</text>
<circle cx="78.6" cy="204.8" r="1.55" fill="#e9552d"/>
<text x="78.50" y="201.89" font-size="5.24" text-anchor="middle" fill="#2a2a2a" style="stroke:#2a2a2a">Dtx1</text>
<circle cx="96.4" cy="207.4" r="1.55" fill="#e9552d"/>
<text x="99.80" y="208.89" font-size="5.24" fill="#2a2a2a" style="stroke:#2a2a2a">Ptcra</text>
<circle cx="88.2" cy="207.3" r="1.55" fill="#e9552d"/>
<text x="88.80" y="214.09" font-size="5.24" fill="#2a2a2a" style="stroke:#2a2a2a">Gata3</text>
<circle cx="85.3" cy="209.6" r="1.55" fill="#e9552d"/>
<text x="81.30" y="218.09" font-size="5.24" fill="#2a2a2a" style="stroke:#2a2a2a">Hes1</text>
<circle cx="74.7" cy="212.7" r="1.55" fill="#e9552d"/>
<text x="72.00" y="214.59" font-size="5.24" text-anchor="end" fill="#2a2a2a" style="stroke:#2a2a2a">Notch1</text>
<circle cx="62.5" cy="226.0" r="1.55" fill="#e9552d"/>
<text x="61.30" y="223.09" font-size="5.24" text-anchor="middle" fill="#2a2a2a" style="stroke:#2a2a2a">Myc</text>
<circle cx="58.5" cy="234.4" r="1.55" fill="#e9552d"/>
<text x="61.60" y="238.09" font-size="5.24" fill="#2a2a2a" style="stroke:#2a2a2a">Nrarp</text>
<circle cx="53.6" cy="236.1" r="1.55" fill="#e9552d"/>
<text x="49.50" y="233.99" font-size="5.24" text-anchor="middle" fill="#2a2a2a" style="stroke:#2a2a2a">Skp2</text>
<circle cx="52.4" cy="237.3" r="1.55" fill="#e9552d"/>
<circle cx="44.0" cy="245.4" r="1.55" fill="#e9552d"/>
<text x="46.60" y="242.69" font-size="5.24" text-anchor="middle" fill="#2a2a2a" style="stroke:#2a2a2a">Igf1r</text>
<circle cx="44.1" cy="247.7" r="1.55" fill="#e9552d"/>
<text x="49.00" y="251.39" font-size="5.24" fill="#2a2a2a" style="stroke:#2a2a2a">Ccnd1</text>
<text x="55.30" y="244.49" font-size="5.24" fill="#2a2a2a" style="stroke:#2a2a2a">Il7r</text>
<path d="M191 221h2v1h-2zM207 221h2v1h-2zM217 221h1v1h-1zM233 221h2v1h-2zM242 221h1v1h-1zM226 196h1v1h-1zM229 196h1v1h-1zM239 196h3v1h-3zM246 196h1v1h-1zM249 196h1v1h-1zM252 196h1v1h-1zM211 204h1v1h-1zM223 204h1v1h-1zM225 204h2v1h-2zM229 204h1v1h-1zM233 204h1v1h-1zM235 204h1v1h-1zM245 204h1v1h-1zM250 204h1v1h-1zM187 228h1v1h-1zM189 228h4v1h-4zM195 228h1v1h-1zM198 228h1v1h-1zM201 228h2v1h-2zM228 228h2v1h-2zM205 253h1v1h-1zM208 253h1v1h-1zM216 253h1v1h-1zM207 217h1v1h-1zM210 217h1v1h-1zM213 217h2v1h-2zM234 217h1v1h-1zM187 229h3v1h-3zM193 229h1v1h-1zM195 229h1v1h-1zM200 229h1v1h-1zM203 229h3v1h-3zM209 229h1v1h-1zM223 229h1v1h-1zM225 229h1v1h-1zM227 229h1v1h-1zM203 244h1v1h-1zM209 244h2v1h-2zM212 244h1v1h-1zM217 244h1v1h-1zM227 199h1v1h-1zM237 199h1v1h-1zM239 199h1v1h-1zM246 199h1v1h-1zM249 199h1v1h-1zM255 199h1v1h-1zM214 202h1v1h-1zM224 202h1v1h-1zM228 202h1v1h-1zM233 202h1v1h-1zM245 202h1v1h-1zM247 202h2v1h-2zM193 215h1v1h-1zM202 215h1v1h-1zM211 215h2v1h-2zM220 215h1v1h-1zM234 215h1v1h-1zM239 215h1v1h-1zM201 220h1v1h-1zM205 220h1v1h-1zM210 220h1v1h-1zM215 220h3v1h-3zM234 220h3v1h-3zM245 220h1v1h-1zM189 235h1v1h-1zM198 235h1v1h-1zM218 235h3v1h-3zM236 235h1v1h-1zM193 238h1v1h-1zM210 238h1v1h-1zM216 238h1v1h-1zM219 238h1v1h-1zM222 238h1v1h-1zM230 238h1v1h-1zM206 209h1v1h-1zM211 209h1v1h-1zM218 209h2v1h-2zM222 209h2v1h-2zM225 209h1v1h-1zM227 209h1v1h-1zM242 209h2v1h-2zM203 214h2v1h-2zM207 214h1v1h-1zM213 214h3v1h-3zM218 214h2v1h-2zM237 214h1v1h-1zM240 214h1v1h-1zM269 168h1v1h-1zM273 168h1v1h-1zM236 182h1v1h-1zM241 182h1v1h-1zM244 182h1v1h-1zM254 182h6v1h-6zM267 182h1v1h-1zM269 182h1v1h-1zM235 192h1v1h-1zM240 192h2v1h-2zM245 192h1v1h-1zM247 192h1v1h-1zM255 192h3v1h-3zM266 192h1v1h-1zM229 180h2v1h-2zM245 180h1v1h-1zM252 180h1v1h-1zM258 180h1v1h-1zM262 180h1v1h-1zM269 180h2v1h-2zM187 230h1v1h-1zM189 230h1v1h-1zM195 230h2v1h-2zM203 230h1v1h-1zM205 230h1v1h-1zM225 230h1v1h-1zM227 230h1v1h-1zM230 230h1v1h-1zM256 177h1v1h-1zM259 177h1v1h-1zM261 177h1v1h-1zM265 177h1v1h-1zM270 177h1v1h-1zM272 177h1v1h-1zM193 219h1v1h-1zM206 219h1v1h-1zM209 219h1v1h-1zM212 219h1v1h-1zM215 219h1v1h-1zM241 219h1v1h-1zM242 187h1v1h-1zM248 187h1v1h-1zM251 187h3v1h-3zM260 187h3v1h-3zM198 223h1v1h-1zM205 223h1v1h-1zM208 223h2v1h-2zM228 223h1v1h-1zM233 223h1v1h-1zM191 234h3v1h-3zM195 234h1v1h-1zM201 234h1v1h-1zM205 234h1v1h-1zM221 234h1v1h-1zM223 234h1v1h-1zM191 212h1v1h-1zM200 212h1v1h-1zM208 212h1v1h-1zM217 212h1v1h-1zM226 212h1v1h-1zM238 212h1v1h-1zM241 212h1v1h-1zM243 212h1v1h-1zM247 212h1v1h-1zM196 227h1v1h-1zM198 227h2v1h-2zM201 227h3v1h-3zM205 227h2v1h-2zM228 227h1v1h-1zM239 179h1v1h-1zM263 179h4v1h-4zM243 189h1v1h-1zM246 189h3v1h-3zM257 189h1v1h-1zM260 189h2v1h-2zM215 201h2v1h-2zM230 201h3v1h-3zM236 201h1v1h-1zM188 237h3v1h-3zM195 237h1v1h-1zM197 237h1v1h-1zM219 237h1v1h-1zM228 237h1v1h-1zM234 237h1v1h-1zM202 218h1v1h-1zM208 218h2v1h-2zM211 218h3v1h-3zM235 218h1v1h-1zM226 197h1v1h-1zM238 197h1v1h-1zM240 197h2v1h-2zM250 197h1v1h-1zM254 197h1v1h-1zM187 240h1v1h-1zM191 240h1v1h-1zM195 240h1v1h-1zM201 240h1v1h-1zM212 240h1v1h-1zM219 240h1v1h-1zM240 194h2v1h-2zM245 194h1v1h-1zM249 194h2v1h-2zM253 194h1v1h-1zM194 236h2v1h-2zM219 236h3v1h-3zM225 236h1v1h-1zM220 205h1v1h-1zM227 205h1v1h-1zM230 205h1v1h-1zM247 205h1v1h-1zM211 206h1v1h-1zM223 206h1v1h-1zM227 206h1v1h-1zM229 206h1v1h-1zM231 206h1v1h-1zM245 206h2v1h-2zM187 232h1v1h-1zM189 232h1v1h-1zM191 232h1v1h-1zM193 232h2v1h-2zM196 232h2v1h-2zM199 232h2v1h-2zM224 232h1v1h-1zM226 232h1v1h-1zM246 172h1v1h-1zM259 172h1v1h-1zM266 172h2v1h-2zM269 172h3v1h-3zM274 172h1v1h-1zM201 224h1v1h-1zM204 224h2v1h-2zM207 224h1v1h-1zM209 224h3v1h-3zM228 224h2v1h-2zM231 224h1v1h-1zM233 224h1v1h-1zM248 224h1v1h-1zM191 226h1v1h-1zM193 226h5v1h-5zM200 226h1v1h-1zM202 226h2v1h-2zM208 226h1v1h-1zM210 226h1v1h-1zM225 226h1v1h-1zM216 243h2v1h-2zM221 243h1v1h-1zM189 233h1v1h-1zM191 233h1v1h-1zM197 233h1v1h-1zM205 233h1v1h-1zM217 233h1v1h-1zM221 233h1v1h-1zM225 233h1v1h-1zM238 178h1v1h-1zM260 178h2v1h-2zM266 178h1v1h-1zM237 185h1v1h-1zM240 185h1v1h-1zM246 185h1v1h-1zM250 185h1v1h-1zM256 185h2v1h-2zM260 185h2v1h-2zM263 185h1v1h-1zM226 190h1v1h-1zM235 190h1v1h-1zM245 190h1v1h-1zM247 190h1v1h-1zM250 190h1v1h-1zM256 190h1v1h-1zM259 190h1v1h-1zM242 186h1v1h-1zM245 186h1v1h-1zM252 186h2v1h-2zM255 186h1v1h-1zM258 186h1v1h-1zM260 186h1v1h-1zM263 186h1v1h-1zM250 181h1v1h-1zM261 181h1v1h-1zM266 181h1v1h-1zM201 222h1v1h-1zM205 222h1v1h-1zM208 222h1v1h-1zM210 222h1v1h-1zM215 222h1v1h-1zM230 222h3v1h-3zM234 222h1v1h-1zM223 198h1v1h-1zM227 198h1v1h-1zM233 198h4v1h-4zM239 198h1v1h-1zM251 198h1v1h-1zM206 203h1v1h-1zM246 203h2v1h-2zM250 203h2v1h-2zM205 245h1v1h-1zM207 245h2v1h-2zM212 245h1v1h-1zM215 245h1v1h-1zM211 210h1v1h-1zM221 210h1v1h-1zM223 210h2v1h-2zM247 210h1v1h-1zM269 171h1v1h-1zM273 171h2v1h-2zM215 208h1v1h-1zM223 208h3v1h-3zM241 208h1v1h-1zM244 208h2v1h-2zM249 208h1v1h-1zM246 176h1v1h-1zM268 176h1v1h-1zM270 176h1v1h-1zM235 184h1v1h-1zM253 184h1v1h-1zM258 184h1v1h-1zM262 184h3v1h-3zM242 188h1v1h-1zM247 188h1v1h-1zM251 188h1v1h-1zM255 188h1v1h-1zM259 188h2v1h-2zM207 200h1v1h-1zM219 200h1v1h-1zM232 200h2v1h-2zM236 200h1v1h-1zM246 200h2v1h-2zM253 200h1v1h-1zM262 175h4v1h-4zM269 175h2v1h-2zM232 193h1v1h-1zM242 193h1v1h-1zM245 193h1v1h-1zM247 193h1v1h-1zM252 193h2v1h-2zM256 193h1v1h-1zM210 251h1v1h-1zM212 251h1v1h-1zM203 252h6v1h-6zM201 211h1v1h-1zM213 211h1v1h-1zM220 211h1v1h-1zM222 211h1v1h-1zM233 211h1v1h-1zM218 207h1v1h-1zM223 207h1v1h-1zM228 207h1v1h-1zM187 231h1v1h-1zM195 231h1v1h-1zM220 231h1v1h-1zM222 231h1v1h-1zM224 231h3v1h-3zM200 248h1v1h-1zM206 248h2v1h-2zM215 248h1v1h-1zM206 216h1v1h-1zM208 216h1v1h-1zM210 216h3v1h-3zM214 216h2v1h-2zM217 216h1v1h-1zM237 216h1v1h-1zM251 169h1v1h-1zM265 169h1v1h-1zM267 169h1v1h-1zM271 169h1v1h-1zM189 241h1v1h-1zM198 241h1v1h-1zM211 241h1v1h-1zM214 241h3v1h-3zM218 241h1v1h-1zM225 241h1v1h-1zM227 241h1v1h-1zM201 249h1v1h-1zM206 249h1v1h-1zM234 249h1v1h-1zM191 225h1v1h-1zM198 225h1v1h-1zM201 225h1v1h-1zM204 225h1v1h-1zM208 225h2v1h-2zM211 225h1v1h-1zM225 225h1v1h-1zM227 225h1v1h-1zM229 225h1v1h-1zM242 173h1v1h-1zM253 173h1v1h-1zM255 173h1v1h-1zM267 173h1v1h-1zM269 173h1v1h-1zM239 195h1v1h-1zM255 195h1v1h-1zM208 247h1v1h-1zM210 247h2v1h-2zM216 247h1v1h-1zM239 183h1v1h-1zM250 183h1v1h-1zM254 183h1v1h-1zM262 183h1v1h-1zM264 183h1v1h-1zM266 183h1v1h-1zM268 174h1v1h-1zM255 166h1v1h-1zM272 166h1v1h-1zM239 191h1v1h-1zM249 191h1v1h-1zM253 191h1v1h-1zM256 191h1v1h-1zM190 242h1v1h-1zM212 242h2v1h-2zM216 242h3v1h-3zM211 246h1v1h-1zM206 250h2v1h-2zM216 213h2v1h-2zM240 213h1v1h-1zM264 163h1v1h-1zM188 239h1v1h-1zM209 239h1v1h-1zM212 239h1v1h-1zM215 239h1v1h-1zM227 239h1v1h-1zM268 170h1v1h-1z" fill="#b4b4b4"/>
<path d="M187 245h18v1h-18zM206 245h1v1h-1zM209 245h1v1h-1zM187 244h13v1h-13zM201 244h2v1h-2zM204 244h5v1h-5zM211 244h1v1h-1zM187 247h21v1h-21zM187 251h16v1h-16zM205 251h2v1h-2zM237 195h1v1h-1zM242 195h7v1h-7zM250 195h3v1h-3zM254 195h1v1h-1zM187 242h3v1h-3zM191 242h21v1h-21zM187 248h13v1h-13zM201 248h5v1h-5zM199 229h1v1h-1zM201 229h2v1h-2zM206 229h3v1h-3zM210 229h13v1h-13zM224 229h1v1h-1zM225 210h17v1h-17zM187 239h1v1h-1zM189 239h20v1h-20zM210 239h2v1h-2zM213 239h2v1h-2zM237 198h1v1h-1zM240 198h11v1h-11zM230 204h1v1h-1zM232 204h1v1h-1zM234 204h1v1h-1zM236 204h9v1h-9zM246 204h1v1h-1zM211 213h1v1h-1zM215 213h1v1h-1zM222 213h18v1h-18zM207 225h1v1h-1zM210 225h1v1h-1zM212 225h13v1h-13zM228 225h1v1h-1zM191 237h4v1h-4zM196 237h1v1h-1zM198 237h19v1h-19zM204 226h3v1h-3zM209 226h1v1h-1zM211 226h14v1h-14zM227 226h2v1h-2zM235 226h1v1h-1zM215 215h1v1h-1zM218 215h2v1h-2zM221 215h13v1h-13zM235 215h2v1h-2zM238 215h1v1h-1zM194 230h1v1h-1zM197 230h1v1h-1zM199 230h4v1h-4zM204 230h1v1h-1zM206 230h19v1h-19zM188 232h1v1h-1zM192 232h1v1h-1zM195 232h1v1h-1zM198 232h1v1h-1zM201 232h2v1h-2zM204 232h19v1h-19zM187 250h16v1h-16zM199 222h1v1h-1zM209 222h1v1h-1zM212 222h3v1h-3zM216 222h14v1h-14zM193 228h1v1h-1zM196 228h1v1h-1zM200 228h1v1h-1zM203 228h1v1h-1zM206 228h20v1h-20zM228 206h1v1h-1zM232 206h13v1h-13zM229 205h1v1h-1zM231 205h1v1h-1zM233 205h13v1h-13zM187 238h3v1h-3zM192 238h1v1h-1zM194 238h16v1h-16zM211 238h5v1h-5zM188 233h1v1h-1zM192 233h1v1h-1zM194 233h3v1h-3zM198 233h4v1h-4zM203 233h2v1h-2zM206 233h11v1h-11zM218 233h1v1h-1zM224 233h1v1h-1zM187 243h25v1h-25zM187 253h18v1h-18zM207 253h1v1h-1zM187 246h17v1h-17zM205 246h3v1h-3zM209 246h1v1h-1zM212 246h1v1h-1zM217 217h1v1h-1zM219 217h15v1h-15zM235 217h1v1h-1zM204 219h1v1h-1zM211 219h1v1h-1zM216 219h18v1h-18zM236 219h1v1h-1zM223 211h10v1h-10zM234 211h7v1h-7zM249 188h1v1h-1zM252 188h3v1h-3zM256 188h3v1h-3zM261 188h1v1h-1zM187 241h2v1h-2zM190 241h8v1h-8zM199 241h12v1h-12zM212 241h1v1h-1zM203 224h1v1h-1zM206 224h1v1h-1zM212 224h16v1h-16zM230 224h1v1h-1zM215 218h20v1h-20zM187 252h16v1h-16zM220 252h1v1h-1zM197 227h1v1h-1zM200 227h1v1h-1zM204 227h1v1h-1zM207 227h19v1h-19zM187 236h3v1h-3zM192 236h2v1h-2zM196 236h21v1h-21zM187 234h1v1h-1zM189 234h1v1h-1zM196 234h1v1h-1zM198 234h2v1h-2zM202 234h3v1h-3zM206 234h13v1h-13zM231 202h2v1h-2zM236 202h8v1h-8zM246 202h1v1h-1zM249 202h1v1h-1zM220 209h1v1h-1zM224 209h1v1h-1zM226 209h1v1h-1zM230 209h2v1h-2zM233 209h9v1h-9zM227 208h3v1h-3zM231 208h10v1h-10zM242 208h2v1h-2zM227 207h1v1h-1zM229 207h1v1h-1zM231 207h12v1h-12zM245 207h1v1h-1zM193 231h2v1h-2zM197 231h1v1h-1zM200 231h3v1h-3zM204 231h16v1h-16zM187 249h14v1h-14zM202 249h4v1h-4zM207 249h1v1h-1zM230 203h6v1h-6zM237 203h9v1h-9zM248 203h1v1h-1zM218 216h19v1h-19zM235 200h1v1h-1zM237 200h2v1h-2zM240 200h6v1h-6zM248 200h2v1h-2zM259 181h1v1h-1zM262 181h1v1h-1zM217 214h1v1h-1zM220 214h16v1h-16zM238 214h2v1h-2zM227 201h1v1h-1zM233 201h1v1h-1zM235 201h1v1h-1zM237 201h11v1h-11zM249 201h2v1h-2zM210 221h2v1h-2zM213 221h4v1h-4zM218 221h15v1h-15zM250 189h3v1h-3zM254 189h1v1h-1zM256 189h1v1h-1zM258 189h1v1h-1zM247 186h1v1h-1zM249 186h2v1h-2zM254 186h1v1h-1zM256 186h1v1h-1zM262 186h1v1h-1zM236 199h1v1h-1zM238 199h1v1h-1zM240 199h6v1h-6zM247 199h1v1h-1zM250 199h1v1h-1zM253 185h3v1h-3zM258 185h1v1h-1zM262 185h1v1h-1zM211 220h4v1h-4zM218 220h15v1h-15zM194 223h1v1h-1zM213 223h15v1h-15zM229 223h3v1h-3zM221 212h5v1h-5zM227 212h11v1h-11zM239 212h2v1h-2zM255 184h1v1h-1zM260 184h2v1h-2zM237 197h1v1h-1zM239 197h1v1h-1zM242 197h8v1h-8zM251 197h2v1h-2zM188 240h2v1h-2zM192 240h3v1h-3zM196 240h2v1h-2zM199 240h2v1h-2zM202 240h10v1h-10zM214 240h1v1h-1zM246 190h1v1h-1zM248 190h1v1h-1zM251 190h5v1h-5zM257 190h1v1h-1zM190 235h1v1h-1zM192 235h5v1h-5zM199 235h19v1h-19zM242 196h4v1h-4zM247 196h2v1h-2zM250 196h1v1h-1zM253 196h1v1h-1zM256 196h1v1h-1zM249 187h1v1h-1zM254 187h2v1h-2zM258 187h1v1h-1zM244 194h1v1h-1zM246 194h3v1h-3zM251 194h2v1h-2zM254 194h1v1h-1zM256 194h1v1h-1zM261 182h1v1h-1zM242 192h1v1h-1zM244 192h1v1h-1zM246 192h1v1h-1zM248 192h1v1h-1zM250 192h4v1h-4zM245 191h4v1h-4zM250 191h3v1h-3zM255 191h1v1h-1zM256 183h1v1h-1zM261 183h1v1h-1zM238 193h1v1h-1zM243 193h1v1h-1zM246 193h1v1h-1zM248 193h4v1h-4zM255 193h1v1h-1zM264 178h1v1h-1zM260 180h2v1h-2zM263 180h2v1h-2zM259 179h1v1h-1zM262 177h1v1h-1zM266 175h1v1h-1zM273 175h1v1h-1zM255 172h1v1h-1zM268 173h1v1h-1zM274 164h1v1h-1z" fill="#9b9b9b"/>
<line x1="186.60" y1="254.60" x2="291.60" y2="149.60" stroke="#231f20" stroke-width="1.1" />
<line x1="186.50" y1="255.20" x2="186.50" y2="142.60" stroke="#231f20" stroke-width="1.5" />
<line x1="185.80" y1="254.40" x2="300.10" y2="254.40" stroke="#231f20" stroke-width="1.4" />
<line x1="183.80" y1="254.60" x2="186.20" y2="254.60" stroke="#231f20" stroke-width="0.9" />
<text x="181.40" y="256.91" font-size="6.42" text-anchor="end">0</text>
<line x1="186.60" y1="254.60" x2="186.60" y2="257.10" stroke="#231f20" stroke-width="0.9" />
<text x="186.60" y="266.71" font-size="6.42" text-anchor="middle">0</text>
<line x1="183.80" y1="239.60" x2="186.20" y2="239.60" stroke="#231f20" stroke-width="0.9" />
<text x="181.40" y="241.91" font-size="6.42" text-anchor="end">2</text>
<line x1="201.60" y1="254.60" x2="201.60" y2="257.10" stroke="#231f20" stroke-width="0.9" />
<text x="201.60" y="266.71" font-size="6.42" text-anchor="middle">2</text>
<line x1="183.80" y1="224.60" x2="186.20" y2="224.60" stroke="#231f20" stroke-width="0.9" />
<text x="181.40" y="226.91" font-size="6.42" text-anchor="end">4</text>
<line x1="216.60" y1="254.60" x2="216.60" y2="257.10" stroke="#231f20" stroke-width="0.9" />
<text x="216.60" y="266.71" font-size="6.42" text-anchor="middle">4</text>
<line x1="183.80" y1="209.60" x2="186.20" y2="209.60" stroke="#231f20" stroke-width="0.9" />
<text x="181.40" y="211.91" font-size="6.42" text-anchor="end">6</text>
<line x1="231.60" y1="254.60" x2="231.60" y2="257.10" stroke="#231f20" stroke-width="0.9" />
<text x="231.60" y="266.71" font-size="6.42" text-anchor="middle">6</text>
<line x1="183.80" y1="194.60" x2="186.20" y2="194.60" stroke="#231f20" stroke-width="0.9" />
<text x="181.40" y="196.91" font-size="6.42" text-anchor="end">8</text>
<line x1="246.60" y1="254.60" x2="246.60" y2="257.10" stroke="#231f20" stroke-width="0.9" />
<text x="246.60" y="266.71" font-size="6.42" text-anchor="middle">8</text>
<line x1="183.80" y1="179.60" x2="186.20" y2="179.60" stroke="#231f20" stroke-width="0.9" />
<text x="181.40" y="181.91" font-size="6.42" text-anchor="end">10</text>
<line x1="261.60" y1="254.60" x2="261.60" y2="257.10" stroke="#231f20" stroke-width="0.9" />
<text x="261.60" y="266.71" font-size="6.42" text-anchor="middle">10</text>
<line x1="183.80" y1="164.60" x2="186.20" y2="164.60" stroke="#231f20" stroke-width="0.9" />
<text x="181.40" y="166.91" font-size="6.42" text-anchor="end">12</text>
<line x1="276.60" y1="254.60" x2="276.60" y2="257.10" stroke="#231f20" stroke-width="0.9" />
<text x="276.60" y="266.71" font-size="6.42" text-anchor="middle">12</text>
<line x1="183.80" y1="149.60" x2="186.20" y2="149.60" stroke="#231f20" stroke-width="0.9" />
<text x="181.40" y="151.91" font-size="6.42" text-anchor="end">14</text>
<line x1="291.60" y1="254.60" x2="291.60" y2="257.10" stroke="#231f20" stroke-width="0.9" />
<text x="291.60" y="266.71" font-size="6.42" text-anchor="middle">14</text>
<text x="165.00" y="203.73" font-size="8.13" text-anchor="middle" textLength="143.50" lengthAdjust="spacingAndGlyphs" transform="rotate(-90 165.00 200.80)">T-ALL expression levels in log2 (FPKM+1)</text>
<text x="173.80" y="278.53" font-size="8.13" textLength="147.00" lengthAdjust="spacingAndGlyphs">WT expression levels in log2 (FPKM+1)</text>
<circle cx="226.0" cy="193.8" r="1.55" fill="#e9552d"/>
<text x="226.30" y="191.69" font-size="5.24" text-anchor="middle" fill="#2a2a2a" style="stroke:#2a2a2a">Dtx1</text>
<circle cx="209.4" cy="206.7" r="1.55" fill="#e9552d"/>
<text x="206.20" y="208.59" font-size="5.24" text-anchor="end" fill="#2a2a2a" style="stroke:#2a2a2a">Myc</text>
<circle cx="221.5" cy="206.7" r="1.55" fill="#e9552d"/>
<text x="210.40" y="213.09" font-size="5.24" fill="#2a2a2a" style="stroke:#2a2a2a">Notch1</text>
<circle cx="232.5" cy="208.0" r="1.55" fill="#e9552d"/>
<text x="229.70" y="204.79" font-size="5.24" text-anchor="middle" fill="#2a2a2a" style="stroke:#2a2a2a">Hes1</text>
<circle cx="235.4" cy="210.6" r="1.55" fill="#e9552d"/>
<text x="229.20" y="216.49" font-size="5.24" fill="#2a2a2a" style="stroke:#2a2a2a">Gata3</text>
<circle cx="243.7" cy="207.3" r="1.55" fill="#e9552d"/>
<text x="246.20" y="209.59" font-size="5.24" fill="#2a2a2a" style="stroke:#2a2a2a">Ptcra</text>
<circle cx="205.6" cy="219.8" r="1.55" fill="#e9552d"/>
<text x="202.70" y="221.69" font-size="5.24" text-anchor="end" fill="#2a2a2a" style="stroke:#2a2a2a">Nrarp</text>
<circle cx="200.4" cy="235.6" r="1.55" fill="#e9552d"/>
<text x="200.40" y="232.69" font-size="5.24" text-anchor="middle" fill="#2a2a2a" style="stroke:#2a2a2a">Skp2</text>
<circle cx="199.0" cy="237.9" r="1.55" fill="#e9552d"/>
<text x="190.80" y="239.49" font-size="5.24" fill="#2a2a2a" style="stroke:#2a2a2a">Il7r</text>
<circle cx="191.3" cy="246.5" r="1.55" fill="#e9552d"/>
<text x="187.00" y="244.59" font-size="5.24" fill="#2a2a2a" style="stroke:#2a2a2a">Igf1r</text>
<circle cx="191.3" cy="250.4" r="1.55" fill="#e9552d"/>
<text x="195.60" y="253.09" font-size="5.24" fill="#2a2a2a" style="stroke:#2a2a2a">Ccnd1</text>
<text font-size="11.4" transform="translate(9.23,299.30) scale(0.827,1)">F</text>
<line x1="35.70" y1="306.00" x2="35.70" y2="377.70" stroke="#231f20" stroke-width="1.1" />
<line x1="35.30" y1="377.30" x2="126.30" y2="377.30" stroke="#231f20" stroke-width="1.1" />
<line x1="33.40" y1="309.50" x2="35.70" y2="309.50" stroke="#231f20" stroke-width="0.9" />
<text x="31.80" y="311.44" font-size="5.4" text-anchor="end">10<tspan dy="-2.1" font-size="3.4">8</tspan></text>
<line x1="33.40" y1="326.35" x2="35.70" y2="326.35" stroke="#231f20" stroke-width="0.9" />
<text x="31.80" y="328.29" font-size="5.4" text-anchor="end">10<tspan dy="-2.1" font-size="3.4">6</tspan></text>
<line x1="33.40" y1="343.20" x2="35.70" y2="343.20" stroke="#231f20" stroke-width="0.9" />
<text x="31.80" y="345.14" font-size="5.4" text-anchor="end">10<tspan dy="-2.1" font-size="3.4">4</tspan></text>
<line x1="33.40" y1="360.05" x2="35.70" y2="360.05" stroke="#231f20" stroke-width="0.9" />
<text x="31.80" y="361.99" font-size="5.4" text-anchor="end">10<tspan dy="-2.1" font-size="3.4">2</tspan></text>
<line x1="33.40" y1="376.90" x2="35.70" y2="376.90" stroke="#231f20" stroke-width="0.9" />
<text x="31.80" y="378.84" font-size="5.4" text-anchor="end">10<tspan dy="-2.1" font-size="3.4">0</tspan></text>
<text x="13.50" y="344.97" font-size="8.24" text-anchor="middle" textLength="43.00" lengthAdjust="spacingAndGlyphs" transform="rotate(-90 13.50 342.00)">Cell number</text>
<line x1="42.50" y1="334.60" x2="42.50" y2="338.10" stroke="#231f20" stroke-width="0.8" />
<line x1="40.50" y1="334.60" x2="44.50" y2="334.60" stroke="#231f20" stroke-width="0.8" />
<rect x="39.55" y="338.45" width="5.90" height="38.85" fill="#47608a" stroke="#37527f" stroke-width="0.7" />
<line x1="50.85" y1="339.40" x2="50.85" y2="345.40" stroke="#231f20" stroke-width="0.8" />
<line x1="48.85" y1="339.40" x2="52.85" y2="339.40" stroke="#231f20" stroke-width="0.8" />
<rect x="48.05" y="345.75" width="5.60" height="31.55" fill="#a3364a" stroke="#951b33" stroke-width="0.7" />
<line x1="39.60" y1="320.90" x2="54.00" y2="320.90" stroke="#333" stroke-width="1.15" />
<text x="46.80" y="320.90" font-size="5.56" text-anchor="middle">*</text>
<line x1="46.70" y1="377.30" x2="46.70" y2="380.60" stroke="#231f20" stroke-width="0.9" />
<text x="48.90" y="386.50" font-size="6.0" text-anchor="end" transform="rotate(-45 48.90 386.50)" textLength="11.5" lengthAdjust="spacingAndGlyphs">DN1</text>
<line x1="65.45" y1="330.20" x2="65.45" y2="333.30" stroke="#231f20" stroke-width="0.8" />
<line x1="63.45" y1="330.20" x2="67.45" y2="330.20" stroke="#231f20" stroke-width="0.8" />
<rect x="62.45" y="333.65" width="6.00" height="43.65" fill="#47608a" stroke="#37527f" stroke-width="0.7" />
<line x1="73.75" y1="337.10" x2="73.75" y2="350.40" stroke="#231f20" stroke-width="0.8" />
<line x1="71.75" y1="337.10" x2="75.75" y2="337.10" stroke="#231f20" stroke-width="0.8" />
<rect x="70.75" y="350.75" width="6.00" height="26.55" fill="#a3364a" stroke="#951b33" stroke-width="0.7" />
<line x1="62.30" y1="320.90" x2="76.70" y2="320.90" stroke="#333" stroke-width="1.15" />
<text x="69.50" y="320.90" font-size="5.56" text-anchor="middle">*</text>
<line x1="69.40" y1="377.30" x2="69.40" y2="380.60" stroke="#231f20" stroke-width="0.9" />
<text x="71.60" y="386.50" font-size="6.0" text-anchor="end" transform="rotate(-45 71.60 386.50)" textLength="11.5" lengthAdjust="spacingAndGlyphs">DN2</text>
<line x1="88.55" y1="328.30" x2="88.55" y2="331.20" stroke="#231f20" stroke-width="0.8" />
<line x1="86.55" y1="328.30" x2="90.55" y2="328.30" stroke="#231f20" stroke-width="0.8" />
<rect x="85.55" y="331.55" width="6.00" height="45.75" fill="#47608a" stroke="#37527f" stroke-width="0.7" />
<line x1="96.85" y1="333.30" x2="96.85" y2="342.30" stroke="#231f20" stroke-width="0.8" />
<line x1="94.85" y1="333.30" x2="98.85" y2="333.30" stroke="#231f20" stroke-width="0.8" />
<rect x="93.85" y="342.65" width="6.00" height="34.65" fill="#a3364a" stroke="#951b33" stroke-width="0.7" />
<line x1="85.20" y1="320.90" x2="99.60" y2="320.90" stroke="#333" stroke-width="1.15" />
<text x="92.40" y="320.90" font-size="5.56" text-anchor="middle">*</text>
<line x1="92.50" y1="377.30" x2="92.50" y2="380.60" stroke="#231f20" stroke-width="0.9" />
<text x="94.70" y="386.50" font-size="6.0" text-anchor="end" transform="rotate(-45 94.70 386.50)" textLength="11.5" lengthAdjust="spacingAndGlyphs">DN3</text>
<line x1="111.25" y1="328.80" x2="111.25" y2="332.70" stroke="#231f20" stroke-width="0.8" />
<line x1="109.25" y1="328.80" x2="113.25" y2="328.80" stroke="#231f20" stroke-width="0.8" />
<rect x="108.25" y="333.05" width="6.00" height="44.25" fill="#47608a" stroke="#37527f" stroke-width="0.7" />
<line x1="119.90" y1="330.20" x2="119.90" y2="338.10" stroke="#231f20" stroke-width="0.8" />
<line x1="117.90" y1="330.20" x2="121.90" y2="330.20" stroke="#231f20" stroke-width="0.8" />
<rect x="116.85" y="338.45" width="6.10" height="38.85" fill="#a3364a" stroke="#951b33" stroke-width="0.7" />
<line x1="107.90" y1="320.90" x2="121.90" y2="320.90" stroke="#333" stroke-width="1.15" />
<text x="114.90" y="319.70" font-size="5.56" text-anchor="middle" textLength="5.20" lengthAdjust="spacingAndGlyphs">ns</text>
<line x1="115.60" y1="377.30" x2="115.60" y2="380.60" stroke="#231f20" stroke-width="0.9" />
<text x="117.80" y="386.50" font-size="6.0" text-anchor="end" transform="rotate(-45 117.80 386.50)" textLength="11.5" lengthAdjust="spacingAndGlyphs">DN4</text>
<line x1="164.60" y1="305.60" x2="164.60" y2="376.80" stroke="#231f20" stroke-width="1.1" />
<line x1="164.20" y1="376.40" x2="255.00" y2="376.40" stroke="#231f20" stroke-width="1.1" />
<line x1="162.30" y1="308.00" x2="164.60" y2="308.00" stroke="#231f20" stroke-width="0.9" />
<text x="160.60" y="310.31" font-size="6.42" text-anchor="end">60</text>
<line x1="162.30" y1="330.90" x2="164.60" y2="330.90" stroke="#231f20" stroke-width="0.9" />
<text x="160.60" y="333.21" font-size="6.42" text-anchor="end">40</text>
<line x1="162.30" y1="353.70" x2="164.60" y2="353.70" stroke="#231f20" stroke-width="0.9" />
<text x="160.60" y="356.01" font-size="6.42" text-anchor="end">20</text>
<line x1="162.30" y1="376.40" x2="164.60" y2="376.40" stroke="#231f20" stroke-width="0.9" />
<text x="160.60" y="378.71" font-size="6.42" text-anchor="end">0</text>
<text x="144.4" y="343.22" font-size="8.1" text-anchor="middle" transform="rotate(-90 144.4 340.3)" textLength="71" lengthAdjust="spacingAndGlyphs">% in Lin<tspan dy="-2.4" font-size="4.6">–</tspan><tspan dy="2.4">CD45</tspan><tspan dy="-2.4" font-size="4.6">+</tspan><tspan dy="2.4"> cells</tspan></text>
<line x1="171.35" y1="369.20" x2="171.35" y2="370.40" stroke="#231f20" stroke-width="0.8" />
<line x1="169.35" y1="369.20" x2="173.35" y2="369.20" stroke="#231f20" stroke-width="0.8" />
<rect x="168.45" y="370.75" width="5.80" height="5.65" fill="#47608a" stroke="#37527f" stroke-width="0.7" />
<line x1="179.45" y1="362.30" x2="179.45" y2="368.50" stroke="#231f20" stroke-width="0.8" />
<line x1="177.45" y1="362.30" x2="181.45" y2="362.30" stroke="#231f20" stroke-width="0.8" />
<rect x="176.55" y="368.85" width="5.80" height="7.55" fill="#a3364a" stroke="#951b33" stroke-width="0.7" />
<line x1="168.80" y1="355.10" x2="182.00" y2="355.10" stroke="#333" stroke-width="1.15" />
<text x="175.40" y="353.90" font-size="5.56" text-anchor="middle" textLength="5.20" lengthAdjust="spacingAndGlyphs">ns</text>
<line x1="175.40" y1="376.40" x2="175.40" y2="379.70" stroke="#231f20" stroke-width="0.9" />
<text x="177.60" y="385.60" font-size="6.0" text-anchor="end" transform="rotate(-45 177.60 385.60)" textLength="11.5" lengthAdjust="spacingAndGlyphs">DN1</text>
<line x1="194.45" y1="351.20" x2="194.45" y2="354.20" stroke="#231f20" stroke-width="0.8" />
<line x1="192.45" y1="351.20" x2="196.45" y2="351.20" stroke="#231f20" stroke-width="0.8" />
<rect x="191.55" y="354.55" width="5.80" height="21.85" fill="#47608a" stroke="#37527f" stroke-width="0.7" />
<line x1="202.50" y1="365.50" x2="202.50" y2="370.80" stroke="#231f20" stroke-width="0.8" />
<line x1="200.50" y1="365.50" x2="204.50" y2="365.50" stroke="#231f20" stroke-width="0.8" />
<rect x="199.65" y="371.15" width="5.70" height="5.25" fill="#a3364a" stroke="#951b33" stroke-width="0.7" />
<line x1="191.20" y1="346.60" x2="204.60" y2="346.60" stroke="#333" stroke-width="1.15" />
<text x="197.90" y="346.60" font-size="5.56" text-anchor="middle">**</text>
<line x1="198.50" y1="376.40" x2="198.50" y2="379.70" stroke="#231f20" stroke-width="0.9" />
<text x="200.70" y="385.60" font-size="6.0" text-anchor="end" transform="rotate(-45 200.70 385.60)" textLength="11.5" lengthAdjust="spacingAndGlyphs">DN2</text>
<line x1="217.55" y1="331.60" x2="217.55" y2="335.70" stroke="#231f20" stroke-width="0.8" />
<line x1="215.55" y1="331.60" x2="219.55" y2="331.60" stroke="#231f20" stroke-width="0.8" />
<rect x="214.65" y="336.05" width="5.80" height="40.35" fill="#47608a" stroke="#37527f" stroke-width="0.7" />
<line x1="225.60" y1="335.00" x2="225.60" y2="354.20" stroke="#231f20" stroke-width="0.8" />
<line x1="223.60" y1="335.00" x2="227.60" y2="335.00" stroke="#231f20" stroke-width="0.8" />
<rect x="222.75" y="354.55" width="5.70" height="21.85" fill="#a3364a" stroke="#951b33" stroke-width="0.7" />
<line x1="214.30" y1="327.00" x2="227.00" y2="327.00" stroke="#333" stroke-width="1.15" />
<text x="220.65" y="325.80" font-size="5.56" text-anchor="middle" textLength="5.20" lengthAdjust="spacingAndGlyphs">ns</text>
<line x1="221.60" y1="376.40" x2="221.60" y2="379.70" stroke="#231f20" stroke-width="0.9" />
<text x="223.80" y="385.60" font-size="6.0" text-anchor="end" transform="rotate(-45 223.80 385.60)" textLength="11.5" lengthAdjust="spacingAndGlyphs">DN3</text>
<line x1="240.60" y1="344.30" x2="240.60" y2="348.90" stroke="#231f20" stroke-width="0.8" />
<line x1="238.60" y1="344.30" x2="242.60" y2="344.30" stroke="#231f20" stroke-width="0.8" />
<rect x="237.75" y="349.25" width="5.70" height="27.15" fill="#47608a" stroke="#37527f" stroke-width="0.7" />
<line x1="248.75" y1="312.40" x2="248.75" y2="325.80" stroke="#231f20" stroke-width="0.8" />
<line x1="246.75" y1="312.40" x2="250.75" y2="312.40" stroke="#231f20" stroke-width="0.8" />
<rect x="245.85" y="326.15" width="5.80" height="50.25" fill="#a3364a" stroke="#951b33" stroke-width="0.7" />
<line x1="237.40" y1="308.90" x2="250.00" y2="308.90" stroke="#333" stroke-width="1.15" />
<text x="243.70" y="308.90" font-size="5.56" text-anchor="middle">*</text>
<line x1="244.70" y1="376.40" x2="244.70" y2="379.70" stroke="#231f20" stroke-width="0.9" />
<text x="246.90" y="385.60" font-size="6.0" text-anchor="end" transform="rotate(-45 246.90 385.60)" textLength="11.5" lengthAdjust="spacingAndGlyphs">DN4</text>
<line x1="295.00" y1="305.60" x2="295.00" y2="377.70" stroke="#231f20" stroke-width="1.1" />
<line x1="294.60" y1="377.30" x2="383.00" y2="377.30" stroke="#231f20" stroke-width="1.1" />
<line x1="292.70" y1="308.00" x2="295.00" y2="308.00" stroke="#231f20" stroke-width="0.9" />
<text x="291.00" y="309.94" font-size="5.4" text-anchor="end">10<tspan dy="-2.1" font-size="3.4">10</tspan></text>
<line x1="292.70" y1="321.90" x2="295.00" y2="321.90" stroke="#231f20" stroke-width="0.9" />
<text x="291.00" y="323.84" font-size="5.4" text-anchor="end">10<tspan dy="-2.1" font-size="3.4">8</tspan></text>
<line x1="292.70" y1="335.80" x2="295.00" y2="335.80" stroke="#231f20" stroke-width="0.9" />
<text x="291.00" y="337.74" font-size="5.4" text-anchor="end">10<tspan dy="-2.1" font-size="3.4">6</tspan></text>
<line x1="292.70" y1="349.60" x2="295.00" y2="349.60" stroke="#231f20" stroke-width="0.9" />
<text x="291.00" y="351.54" font-size="5.4" text-anchor="end">10<tspan dy="-2.1" font-size="3.4">4</tspan></text>
<line x1="292.70" y1="363.50" x2="295.00" y2="363.50" stroke="#231f20" stroke-width="0.9" />
<text x="291.00" y="365.44" font-size="5.4" text-anchor="end">10<tspan dy="-2.1" font-size="3.4">2</tspan></text>
<line x1="292.70" y1="377.30" x2="295.00" y2="377.30" stroke="#231f20" stroke-width="0.9" />
<text x="291.00" y="379.24" font-size="5.4" text-anchor="end">10<tspan dy="-2.1" font-size="3.4">0</tspan></text>
<text x="269.80" y="344.97" font-size="8.24" text-anchor="middle" textLength="43.00" lengthAdjust="spacingAndGlyphs" transform="rotate(-90 269.80 342.00)">Cell number</text>
<line x1="301.75" y1="332.30" x2="301.75" y2="333.90" stroke="#231f20" stroke-width="0.8" />
<line x1="299.75" y1="332.30" x2="303.75" y2="332.30" stroke="#231f20" stroke-width="0.8" />
<rect x="298.85" y="334.25" width="5.80" height="43.05" fill="#47608a" stroke="#37527f" stroke-width="0.7" />
<line x1="309.80" y1="333.90" x2="309.80" y2="335.70" stroke="#231f20" stroke-width="0.8" />
<line x1="307.80" y1="333.90" x2="311.80" y2="333.90" stroke="#231f20" stroke-width="0.8" />
<rect x="306.95" y="336.05" width="5.70" height="41.25" fill="#a3364a" stroke="#951b33" stroke-width="0.7" />
<line x1="299.20" y1="327.00" x2="312.40" y2="327.00" stroke="#333" stroke-width="1.15" />
<text x="305.80" y="325.80" font-size="5.56" text-anchor="middle" textLength="5.20" lengthAdjust="spacingAndGlyphs">ns</text>
<line x1="305.80" y1="377.30" x2="305.80" y2="380.60" stroke="#231f20" stroke-width="0.9" />
<text x="308.20" y="388.10" font-size="6.2" text-anchor="end" transform="rotate(-45 308.20 388.10)" textLength="23.5" lengthAdjust="spacingAndGlyphs">CD4<tspan dy="-1.8" font-size="3.6">–</tspan><tspan dy="1.8">CD8</tspan><tspan dy="-1.8" font-size="3.6">–</tspan></text>
<line x1="324.15" y1="322.30" x2="324.15" y2="324.20" stroke="#231f20" stroke-width="0.8" />
<line x1="322.15" y1="322.30" x2="326.15" y2="322.30" stroke="#231f20" stroke-width="0.8" />
<rect x="321.25" y="324.55" width="5.80" height="52.75" fill="#47608a" stroke="#37527f" stroke-width="0.7" />
<line x1="332.25" y1="323.00" x2="332.25" y2="325.80" stroke="#231f20" stroke-width="0.8" />
<line x1="330.25" y1="323.00" x2="334.25" y2="323.00" stroke="#231f20" stroke-width="0.8" />
<rect x="329.35" y="326.15" width="5.80" height="51.15" fill="#a3364a" stroke="#951b33" stroke-width="0.7" />
<line x1="320.90" y1="318.20" x2="333.60" y2="318.20" stroke="#333" stroke-width="1.15" />
<text x="327.25" y="317.00" font-size="5.56" text-anchor="middle" textLength="5.20" lengthAdjust="spacingAndGlyphs">ns</text>
<line x1="328.20" y1="377.30" x2="328.20" y2="380.60" stroke="#231f20" stroke-width="0.9" />
<text x="330.60" y="388.10" font-size="6.2" text-anchor="end" transform="rotate(-45 330.60 388.10)" textLength="23.5" lengthAdjust="spacingAndGlyphs">CD4<tspan dy="-1.8" font-size="3.6">+</tspan><tspan dy="1.8">CD8</tspan><tspan dy="-1.8" font-size="3.6">+</tspan></text>
<line x1="346.25" y1="329.70" x2="346.25" y2="330.40" stroke="#231f20" stroke-width="0.8" />
<line x1="344.25" y1="329.70" x2="348.25" y2="329.70" stroke="#231f20" stroke-width="0.8" />
<rect x="343.35" y="330.75" width="5.80" height="46.55" fill="#47608a" stroke="#37527f" stroke-width="0.7" />
<line x1="354.40" y1="329.30" x2="354.40" y2="331.60" stroke="#231f20" stroke-width="0.8" />
<line x1="352.40" y1="329.30" x2="356.40" y2="329.30" stroke="#231f20" stroke-width="0.8" />
<rect x="351.55" y="331.95" width="5.70" height="45.35" fill="#a3364a" stroke="#951b33" stroke-width="0.7" />
<line x1="343.00" y1="325.80" x2="355.80" y2="325.80" stroke="#333" stroke-width="1.15" />
<text x="349.40" y="324.60" font-size="5.56" text-anchor="middle" textLength="5.20" lengthAdjust="spacingAndGlyphs">ns</text>
<line x1="350.30" y1="377.30" x2="350.30" y2="380.60" stroke="#231f20" stroke-width="0.9" />
<text x="352.70" y="388.10" font-size="6.2" text-anchor="end" transform="rotate(-45 352.70 388.10)" textLength="17.5" lengthAdjust="spacingAndGlyphs">CD4 SP</text>
<line x1="368.45" y1="332.50" x2="368.45" y2="333.90" stroke="#231f20" stroke-width="0.8" />
<line x1="366.45" y1="332.50" x2="370.45" y2="332.50" stroke="#231f20" stroke-width="0.8" />
<rect x="365.65" y="334.25" width="5.60" height="43.05" fill="#47608a" stroke="#37527f" stroke-width="0.7" />
<line x1="376.40" y1="332.70" x2="376.40" y2="334.30" stroke="#231f20" stroke-width="0.8" />
<line x1="374.40" y1="332.70" x2="378.40" y2="332.70" stroke="#231f20" stroke-width="0.8" />
<rect x="373.55" y="334.65" width="5.70" height="42.65" fill="#a3364a" stroke="#951b33" stroke-width="0.7" />
<line x1="365.00" y1="328.10" x2="377.80" y2="328.10" stroke="#333" stroke-width="1.15" />
<text x="371.40" y="326.90" font-size="5.56" text-anchor="middle" textLength="5.20" lengthAdjust="spacingAndGlyphs">ns</text>
<line x1="372.40" y1="377.30" x2="372.40" y2="380.60" stroke="#231f20" stroke-width="0.9" />
<text x="374.80" y="388.10" font-size="6.2" text-anchor="end" transform="rotate(-45 374.80 388.10)" textLength="17.5" lengthAdjust="spacingAndGlyphs">CD8 SP</text>
<line x1="425.00" y1="306.00" x2="425.00" y2="377.60" stroke="#231f20" stroke-width="1.1" />
<line x1="424.60" y1="377.20" x2="513.30" y2="377.20" stroke="#231f20" stroke-width="1.1" />
<line x1="422.70" y1="308.90" x2="425.00" y2="308.90" stroke="#231f20" stroke-width="0.9" />
<text x="421.20" y="311.21" font-size="6.42" text-anchor="end">100</text>
<line x1="422.70" y1="322.60" x2="425.00" y2="322.60" stroke="#231f20" stroke-width="0.9" />
<text x="421.20" y="324.91" font-size="6.42" text-anchor="end">80</text>
<line x1="422.70" y1="336.30" x2="425.00" y2="336.30" stroke="#231f20" stroke-width="0.9" />
<text x="421.20" y="338.61" font-size="6.42" text-anchor="end">60</text>
<line x1="422.70" y1="350.10" x2="425.00" y2="350.10" stroke="#231f20" stroke-width="0.9" />
<text x="421.20" y="352.41" font-size="6.42" text-anchor="end">40</text>
<line x1="422.70" y1="363.70" x2="425.00" y2="363.70" stroke="#231f20" stroke-width="0.9" />
<text x="421.20" y="366.01" font-size="6.42" text-anchor="end">20</text>
<line x1="422.70" y1="377.20" x2="425.00" y2="377.20" stroke="#231f20" stroke-width="0.9" />
<text x="421.20" y="379.51" font-size="6.42" text-anchor="end">0</text>
<text x="400.4" y="344.32" font-size="8.1" text-anchor="middle" transform="rotate(-90 400.4 341.4)" textLength="71" lengthAdjust="spacingAndGlyphs">% in Lin<tspan dy="-2.4" font-size="4.6">–</tspan><tspan dy="2.4">CD45</tspan><tspan dy="-2.4" font-size="4.6">+</tspan><tspan dy="2.4"> cells</tspan></text>
<line x1="431.60" y1="375.20" x2="431.60" y2="375.70" stroke="#231f20" stroke-width="0.8" />
<line x1="429.60" y1="375.20" x2="433.60" y2="375.20" stroke="#231f20" stroke-width="0.8" />
<rect x="428.95" y="376.05" width="5.30" height="1.15" fill="#47608a" stroke="#37527f" stroke-width="0.7" />
<line x1="440.00" y1="373.40" x2="440.00" y2="375.40" stroke="#231f20" stroke-width="0.8" />
<line x1="438.00" y1="373.40" x2="442.00" y2="373.40" stroke="#231f20" stroke-width="0.8" />
<rect x="437.25" y="375.75" width="5.50" height="1.45" fill="#a3364a" stroke="#951b33" stroke-width="0.7" />
<line x1="429.00" y1="366.40" x2="441.80" y2="366.40" stroke="#333" stroke-width="1.15" />
<text x="435.40" y="365.20" font-size="5.56" text-anchor="middle" textLength="5.20" lengthAdjust="spacingAndGlyphs">ns</text>
<line x1="435.80" y1="377.20" x2="435.80" y2="380.50" stroke="#231f20" stroke-width="0.9" />
<text x="438.20" y="388.00" font-size="6.2" text-anchor="end" transform="rotate(-45 438.20 388.00)" textLength="23.5" lengthAdjust="spacingAndGlyphs">CD4<tspan dy="-1.8" font-size="3.6">–</tspan><tspan dy="1.8">CD8</tspan><tspan dy="-1.8" font-size="3.6">–</tspan></text>
<line x1="453.90" y1="318.90" x2="453.90" y2="320.50" stroke="#231f20" stroke-width="0.8" />
<line x1="451.90" y1="318.90" x2="455.90" y2="318.90" stroke="#231f20" stroke-width="0.8" />
<rect x="451.15" y="320.85" width="5.50" height="56.35" fill="#47608a" stroke="#37527f" stroke-width="0.7" />
<line x1="461.90" y1="319.60" x2="461.90" y2="321.90" stroke="#231f20" stroke-width="0.8" />
<line x1="459.90" y1="319.60" x2="463.90" y2="319.60" stroke="#231f20" stroke-width="0.8" />
<rect x="459.15" y="322.25" width="5.50" height="54.95" fill="#a3364a" stroke="#951b33" stroke-width="0.7" />
<line x1="451.20" y1="312.50" x2="464.20" y2="312.50" stroke="#333" stroke-width="1.15" />
<text x="457.70" y="311.30" font-size="5.56" text-anchor="middle" textLength="5.20" lengthAdjust="spacingAndGlyphs">ns</text>
<line x1="458.00" y1="377.20" x2="458.00" y2="380.50" stroke="#231f20" stroke-width="0.9" />
<text x="460.40" y="388.00" font-size="6.2" text-anchor="end" transform="rotate(-45 460.40 388.00)" textLength="23.5" lengthAdjust="spacingAndGlyphs">CD4<tspan dy="-1.8" font-size="3.6">+</tspan><tspan dy="1.8">CD8</tspan><tspan dy="-1.8" font-size="3.6">+</tspan></text>
<line x1="475.70" y1="368.80" x2="475.70" y2="370.40" stroke="#231f20" stroke-width="0.8" />
<line x1="473.70" y1="368.80" x2="477.70" y2="368.80" stroke="#231f20" stroke-width="0.8" />
<rect x="472.95" y="370.75" width="5.50" height="6.45" fill="#47608a" stroke="#37527f" stroke-width="0.7" />
<line x1="483.95" y1="368.80" x2="483.95" y2="369.80" stroke="#231f20" stroke-width="0.8" />
<line x1="481.95" y1="368.80" x2="485.95" y2="368.80" stroke="#231f20" stroke-width="0.8" />
<rect x="481.15" y="370.15" width="5.60" height="7.05" fill="#a3364a" stroke="#951b33" stroke-width="0.7" />
<line x1="473.50" y1="363.50" x2="486.30" y2="363.50" stroke="#333" stroke-width="1.15" />
<text x="479.90" y="362.30" font-size="5.56" text-anchor="middle" textLength="5.20" lengthAdjust="spacingAndGlyphs">ns</text>
<line x1="480.00" y1="377.20" x2="480.00" y2="380.50" stroke="#231f20" stroke-width="0.9" />
<text x="482.40" y="388.00" font-size="6.2" text-anchor="end" transform="rotate(-45 482.40 388.00)" textLength="17.5" lengthAdjust="spacingAndGlyphs">CD4 SP</text>
<line x1="498.15" y1="374.60" x2="498.15" y2="375.20" stroke="#231f20" stroke-width="0.8" />
<line x1="496.15" y1="374.60" x2="500.15" y2="374.60" stroke="#231f20" stroke-width="0.8" />
<rect x="495.45" y="375.55" width="5.40" height="1.65" fill="#47608a" stroke="#37527f" stroke-width="0.7" />
<line x1="506.05" y1="373.00" x2="506.05" y2="374.00" stroke="#231f20" stroke-width="0.8" />
<line x1="504.05" y1="373.00" x2="508.05" y2="373.00" stroke="#231f20" stroke-width="0.8" />
<rect x="503.25" y="374.35" width="5.60" height="2.85" fill="#a3364a" stroke="#951b33" stroke-width="0.7" />
<line x1="495.60" y1="366.50" x2="508.00" y2="366.50" stroke="#333" stroke-width="1.15" />
<text x="501.80" y="365.30" font-size="5.56" text-anchor="middle" textLength="5.20" lengthAdjust="spacingAndGlyphs">ns</text>
<line x1="502.20" y1="377.20" x2="502.20" y2="380.50" stroke="#231f20" stroke-width="0.9" />
<text x="504.60" y="388.00" font-size="6.2" text-anchor="end" transform="rotate(-45 504.60 388.00)" textLength="17.5" lengthAdjust="spacingAndGlyphs">CD8 SP</text>
<rect x="481.90" y="310.60" width="7.70" height="5.90" fill="#47608a" />
<rect x="481.90" y="320.80" width="7.70" height="5.90" fill="#a3364a" />
<text x="492.70" y="315.78" font-size="5.78" textLength="7.00" lengthAdjust="spacingAndGlyphs">WT</text>
<text x="492.70" y="325.88" font-size="5.78" textLength="15.00" lengthAdjust="spacingAndGlyphs">ΔCxxC</text>
<text font-size="11.4" transform="translate(9.29,432.50) scale(0.888,1)">G</text>
<text x="76.10" y="442.73" font-size="8.13" text-anchor="middle" textLength="15.40" lengthAdjust="spacingAndGlyphs">DN2</text>
<line x1="35.80" y1="447.80" x2="35.80" y2="512.80" stroke="#231f20" stroke-width="1.1" />
<line x1="35.40" y1="512.40" x2="120.30" y2="512.40" stroke="#231f20" stroke-width="1.1" />
<line x1="33.50" y1="450.80" x2="35.80" y2="450.80" stroke="#231f20" stroke-width="0.9" />
<text x="31.20" y="453.04" font-size="6.21" text-anchor="end">15</text>
<line x1="33.50" y1="471.50" x2="35.80" y2="471.50" stroke="#231f20" stroke-width="0.9" />
<text x="31.20" y="473.74" font-size="6.21" text-anchor="end">10</text>
<line x1="33.50" y1="492.00" x2="35.80" y2="492.00" stroke="#231f20" stroke-width="0.9" />
<text x="31.20" y="494.24" font-size="6.21" text-anchor="end">5</text>
<line x1="33.50" y1="512.40" x2="35.80" y2="512.40" stroke="#231f20" stroke-width="0.9" />
<text x="31.20" y="514.64" font-size="6.21" text-anchor="end">0</text>
<line x1="35.80" y1="512.40" x2="35.80" y2="514.80" stroke="#231f20" stroke-width="0.9" />
<text x="35.80" y="524.64" font-size="6.21" text-anchor="middle">0</text>
<line x1="61.90" y1="512.40" x2="61.90" y2="514.80" stroke="#231f20" stroke-width="0.9" />
<text x="61.90" y="524.64" font-size="6.21" text-anchor="middle">5</text>
<line x1="88.00" y1="512.40" x2="88.00" y2="514.80" stroke="#231f20" stroke-width="0.9" />
<text x="88.00" y="524.64" font-size="6.21" text-anchor="middle">10</text>
<line x1="114.30" y1="512.40" x2="114.30" y2="514.80" stroke="#231f20" stroke-width="0.9" />
<text x="114.30" y="524.64" font-size="6.21" text-anchor="middle">15</text>
<text x="77.60" y="536.13" font-size="8.13" text-anchor="middle" textLength="18.30" lengthAdjust="spacingAndGlyphs">Days</text>
<text x="13.6" y="482.18" font-size="8" text-anchor="middle" transform="rotate(-90 13.6 479.30)" textLength="67.5" lengthAdjust="spacingAndGlyphs">Cell number (x10<tspan dy="-2.6" font-size="5">4</tspan><tspan dy="2.6">)</tspan></text>
<polyline points="35.8,512.4 82.0,509.7 119.6,472.3" fill="none" stroke="#a3364a" stroke-width="1.3"/>
<polyline points="35.8,512.4 82.0,511.3 119.6,499.7" fill="none" stroke="#47608a" stroke-width="1.3"/>
<line x1="119.60" y1="461.20" x2="119.60" y2="483.60" stroke="#a3364a" stroke-width="0.8" />
<line x1="118.00" y1="461.20" x2="121.20" y2="461.20" stroke="#a3364a" stroke-width="0.8" />
<line x1="118.00" y1="483.60" x2="121.20" y2="483.60" stroke="#a3364a" stroke-width="0.8" />
<line x1="119.60" y1="493.60" x2="119.60" y2="505.70" stroke="#47608a" stroke-width="0.8" />
<line x1="118.00" y1="493.60" x2="121.20" y2="493.60" stroke="#47608a" stroke-width="0.8" />
<line x1="118.00" y1="505.70" x2="121.20" y2="505.70" stroke="#47608a" stroke-width="0.8" />
<rect x="80.90" y="508.60" width="2.20" height="2.20" fill="#a3364a" />
<rect x="118.50" y="471.20" width="2.20" height="2.20" fill="#a3364a" />
<rect x="80.90" y="510.20" width="2.20" height="2.20" fill="#47608a" />
<rect x="118.50" y="498.60" width="2.20" height="2.20" fill="#47608a" />
<text x="113.80" y="474.19" font-size="5.24" text-anchor="end" textLength="13.50" lengthAdjust="spacingAndGlyphs">ΔCxxC</text>
<text x="115.60" y="499.49" font-size="5.24" text-anchor="end" textLength="6.50" lengthAdjust="spacingAndGlyphs">WT</text>
<path d="M123.5,472.3 L129.3,472.3 L129.3,499.7 L123.5,499.7" stroke="#231f20" stroke-width="0.8" fill="none" />
<text x="134.30" y="488.12" font-size="5.89" text-anchor="middle">**</text>
<text x="76.10" y="555.03" font-size="8.13" text-anchor="middle" textLength="15.40" lengthAdjust="spacingAndGlyphs">DN3</text>
<line x1="36.00" y1="560.20" x2="36.00" y2="624.80" stroke="#231f20" stroke-width="1.1" />
<line x1="35.60" y1="624.40" x2="119.80" y2="624.40" stroke="#231f20" stroke-width="1.1" />
<line x1="33.70" y1="562.50" x2="36.00" y2="562.50" stroke="#231f20" stroke-width="0.9" />
<text x="31.40" y="564.74" font-size="6.21" text-anchor="end">24</text>
<line x1="33.70" y1="583.20" x2="36.00" y2="583.20" stroke="#231f20" stroke-width="0.9" />
<text x="31.40" y="585.44" font-size="6.21" text-anchor="end">16</text>
<line x1="33.70" y1="603.80" x2="36.00" y2="603.80" stroke="#231f20" stroke-width="0.9" />
<text x="31.40" y="606.04" font-size="6.21" text-anchor="end">8</text>
<line x1="33.70" y1="624.40" x2="36.00" y2="624.40" stroke="#231f20" stroke-width="0.9" />
<text x="31.40" y="626.64" font-size="6.21" text-anchor="end">0</text>
<line x1="36.00" y1="624.40" x2="36.00" y2="626.80" stroke="#231f20" stroke-width="0.9" />
<text x="36.00" y="636.64" font-size="6.21" text-anchor="middle">0</text>
<line x1="62.00" y1="624.40" x2="62.00" y2="626.80" stroke="#231f20" stroke-width="0.9" />
<text x="62.00" y="636.64" font-size="6.21" text-anchor="middle">5</text>
<line x1="88.60" y1="624.40" x2="88.60" y2="626.80" stroke="#231f20" stroke-width="0.9" />
<text x="88.60" y="636.64" font-size="6.21" text-anchor="middle">10</text>
<line x1="114.40" y1="624.40" x2="114.40" y2="626.80" stroke="#231f20" stroke-width="0.9" />
<text x="114.40" y="636.64" font-size="6.21" text-anchor="middle">15</text>
<text x="77.60" y="648.13" font-size="8.13" text-anchor="middle" textLength="18.30" lengthAdjust="spacingAndGlyphs">Days</text>
<text x="13.6" y="595.28" font-size="8" text-anchor="middle" transform="rotate(-90 13.6 592.40)" textLength="67.5" lengthAdjust="spacingAndGlyphs">Cell number (x10<tspan dy="-2.6" font-size="5">4</tspan><tspan dy="2.6">)</tspan></text>
<polyline points="36.0,624.4 82.1,620.7 119.6,590.4" fill="none" stroke="#a3364a" stroke-width="1.3"/>
<polyline points="36.0,624.4 82.1,621.6 119.6,612.9" fill="none" stroke="#47608a" stroke-width="1.3"/>
<line x1="119.60" y1="574.00" x2="119.60" y2="607.00" stroke="#a3364a" stroke-width="0.8" />
<line x1="118.00" y1="574.00" x2="121.20" y2="574.00" stroke="#a3364a" stroke-width="0.8" />
<line x1="118.00" y1="607.00" x2="121.20" y2="607.00" stroke="#a3364a" stroke-width="0.8" />
<line x1="119.60" y1="608.30" x2="119.60" y2="617.20" stroke="#47608a" stroke-width="0.8" />
<line x1="118.00" y1="608.30" x2="121.20" y2="608.30" stroke="#47608a" stroke-width="0.8" />
<line x1="118.00" y1="617.20" x2="121.20" y2="617.20" stroke="#47608a" stroke-width="0.8" />
<rect x="81.00" y="619.60" width="2.20" height="2.20" fill="#a3364a" />
<rect x="118.50" y="589.30" width="2.20" height="2.20" fill="#a3364a" />
<rect x="81.00" y="620.50" width="2.20" height="2.20" fill="#47608a" />
<rect x="118.50" y="611.80" width="2.20" height="2.20" fill="#47608a" />
<text x="105.40" y="587.19" font-size="5.24" text-anchor="end" textLength="13.50" lengthAdjust="spacingAndGlyphs">ΔCxxC</text>
<text x="108.20" y="612.59" font-size="5.24" text-anchor="end" textLength="6.50" lengthAdjust="spacingAndGlyphs">WT</text>
<path d="M124.5,589.9 L128.2,589.9 L128.2,612.9 L124.5,612.9" stroke="#231f20" stroke-width="0.8" fill="none" />
<text x="133.20" y="603.52" font-size="5.89" text-anchor="middle">*</text>
<text font-size="11.4" transform="translate(151.24,431.20) scale(1.022,1)">H</text>
<line x1="285.50" y1="436.20" x2="300.40" y2="436.20" stroke="#231f20" stroke-width="1.4" />
<path d="M282.4,436.2 L288.0,433.7 L288.0,438.7 Z" stroke="none" stroke-width="1" fill="#231f20" />
<line x1="303.90" y1="436.20" x2="319.00" y2="436.20" stroke="#231f20" stroke-width="1.4" />
<path d="M322.1,436.2 L316.5,433.7 L316.5,438.7 Z" stroke="none" stroke-width="1" fill="#231f20" />
<rect x="282.80" y="440.50" width="7.90" height="7.50" fill="#4a6fb0" stroke="#333" stroke-width="0.6" />
<rect x="290.70" y="440.50" width="7.90" height="7.50" fill="#d5dde6" stroke="#333" stroke-width="0.6" />
<rect x="298.60" y="440.50" width="7.90" height="7.50" fill="#ffffff" stroke="#333" stroke-width="0.6" />
<rect x="306.50" y="440.50" width="7.90" height="7.50" fill="#d9a3a3" stroke="#333" stroke-width="0.6" />
<rect x="314.40" y="440.50" width="7.90" height="7.50" fill="#d8695a" stroke="#333" stroke-width="0.6" />
<text x="356.50" y="439.11" font-size="6.42" text-anchor="middle" textLength="11.00" lengthAdjust="spacingAndGlyphs">NES</text>
<text x="327.70" y="446.71" font-size="6.42" textLength="58.00" lengthAdjust="spacingAndGlyphs">NOM p-val / FDR q-val</text>
<rect x="282.40" y="451.60" width="136.80" height="14.70" fill="none" stroke="#231f20" stroke-width="1.1" />
<line x1="316.60" y1="451.60" x2="316.60" y2="466.30" stroke="#231f20" stroke-width="1.1" />
<line x1="350.60" y1="451.60" x2="350.60" y2="466.30" stroke="#231f20" stroke-width="1.1" />
<line x1="385.20" y1="451.60" x2="385.20" y2="466.30" stroke="#231f20" stroke-width="1.1" />
<text x="299.50" y="461.01" font-size="6.42" text-anchor="middle" textLength="11.00" lengthAdjust="spacingAndGlyphs">DN2</text>
<text x="333.60" y="461.01" font-size="6.42" text-anchor="middle" textLength="11.00" lengthAdjust="spacingAndGlyphs">DN3</text>
<text x="367.90" y="461.01" font-size="6.42" text-anchor="middle" textLength="11.00" lengthAdjust="spacingAndGlyphs">DN4</text>
<text x="402.20" y="461.01" font-size="6.42" text-anchor="middle" textLength="7.00" lengthAdjust="spacingAndGlyphs">DP</text>
<text x="299.80" y="475.73" font-size="6.74" text-anchor="middle" textLength="13.75" lengthAdjust="spacingAndGlyphs">-0.99</text>
<text x="299.80" y="482.83" font-size="6.74" text-anchor="middle" textLength="27.20" lengthAdjust="spacingAndGlyphs">0.48 / 0.75</text>
<text x="333.90" y="475.73" font-size="6.74" text-anchor="middle" textLength="13.75" lengthAdjust="spacingAndGlyphs">-0.73</text>
<text x="333.90" y="482.83" font-size="6.74" text-anchor="middle" textLength="27.20" lengthAdjust="spacingAndGlyphs">0.86 / 0.96</text>
<rect x="350.60" y="466.30" width="34.60" height="19.50" fill="#d4776a" />
<text x="368.20" y="472.83" font-size="6.74" text-anchor="middle" textLength="11.00" lengthAdjust="spacingAndGlyphs" fill="#3b1c1a" style="stroke:#3b1c1a">1.79</text>
<text x="368.20" y="480.53" font-size="6.74" text-anchor="middle" textLength="27.20" lengthAdjust="spacingAndGlyphs" fill="#3b1c1a" style="stroke:#3b1c1a">0.00 / 0.05</text>
<text x="402.50" y="475.73" font-size="6.74" text-anchor="middle" textLength="8.25" lengthAdjust="spacingAndGlyphs">0.9</text>
<text x="402.50" y="482.83" font-size="6.74" text-anchor="middle" textLength="27.20" lengthAdjust="spacingAndGlyphs">0.58 / 0.78</text>
<text x="166.10" y="474.72" font-size="6.31" textLength="97.50" lengthAdjust="spacingAndGlyphs">REACTOME_ACTIVATED_NOTCH1_TR</text>
<text x="166.10" y="482.12" font-size="6.31" textLength="93.50" lengthAdjust="spacingAndGlyphs">ANSMIT_SIGNAL_TO_THE_NUCLEUS</text>
<text x="299.80" y="494.13" font-size="6.74" text-anchor="middle" textLength="13.75" lengthAdjust="spacingAndGlyphs">-1.29</text>
<text x="299.80" y="501.53" font-size="6.74" text-anchor="middle" textLength="27.20" lengthAdjust="spacingAndGlyphs">0.12 / 0.20</text>
<rect x="316.60" y="485.80" width="34.00" height="19.70" fill="#a9badf" />
<text x="333.90" y="494.13" font-size="6.74" text-anchor="middle" textLength="13.75" lengthAdjust="spacingAndGlyphs">-1.49</text>
<text x="333.90" y="501.53" font-size="6.74" text-anchor="middle" textLength="27.20" lengthAdjust="spacingAndGlyphs">0.02 / 0.07</text>
<rect x="350.60" y="485.80" width="34.60" height="19.70" fill="#d4776a" />
<text x="368.20" y="494.13" font-size="6.74" text-anchor="middle" textLength="11.00" lengthAdjust="spacingAndGlyphs" fill="#3b1c1a" style="stroke:#3b1c1a">1.73</text>
<text x="368.20" y="501.53" font-size="6.74" text-anchor="middle" textLength="27.20" lengthAdjust="spacingAndGlyphs" fill="#3b1c1a" style="stroke:#3b1c1a">0.00 / 0.07</text>
<text x="402.50" y="494.13" font-size="6.74" text-anchor="middle" textLength="13.75" lengthAdjust="spacingAndGlyphs">-1.44</text>
<text x="402.50" y="501.53" font-size="6.74" text-anchor="middle" textLength="27.20" lengthAdjust="spacingAndGlyphs">0.07 / 0.33</text>
<text x="166.10" y="497.92" font-size="6.31" textLength="84.70" lengthAdjust="spacingAndGlyphs">VILIMAS_NOTCH1_TARGETS_UP</text>
<rect x="282.40" y="505.50" width="34.20" height="19.50" fill="#a9badf" />
<text x="299.80" y="513.43" font-size="6.74" text-anchor="middle" textLength="13.75" lengthAdjust="spacingAndGlyphs">-1.41</text>
<text x="299.80" y="520.73" font-size="6.74" text-anchor="middle" textLength="27.20" lengthAdjust="spacingAndGlyphs">0.03 / 0.11</text>
<rect x="316.60" y="505.50" width="34.00" height="19.50" fill="#a9badf" />
<text x="333.90" y="513.43" font-size="6.74" text-anchor="middle" textLength="13.75" lengthAdjust="spacingAndGlyphs">-1.77</text>
<text x="333.90" y="520.73" font-size="6.74" text-anchor="middle" textLength="27.20" lengthAdjust="spacingAndGlyphs">0.00 / 0.01</text>
<rect x="350.60" y="505.50" width="34.60" height="19.50" fill="#d4776a" />
<text x="368.20" y="513.43" font-size="6.74" text-anchor="middle" textLength="11.00" lengthAdjust="spacingAndGlyphs" fill="#3b1c1a" style="stroke:#3b1c1a">1.47</text>
<text x="368.20" y="520.73" font-size="6.74" text-anchor="middle" textLength="27.20" lengthAdjust="spacingAndGlyphs" fill="#3b1c1a" style="stroke:#3b1c1a">0.03 / 0.19</text>
<text x="402.50" y="513.43" font-size="6.74" text-anchor="middle" textLength="11.00" lengthAdjust="spacingAndGlyphs">1.38</text>
<text x="402.50" y="520.73" font-size="6.74" text-anchor="middle" textLength="27.20" lengthAdjust="spacingAndGlyphs">0.11 / 0.48</text>
<text x="166.10" y="517.52" font-size="6.31" textLength="97.30" lengthAdjust="spacingAndGlyphs">REACTOME_SIGNALING_BY_NOTCH1</text>
<rect x="162.60" y="466.30" width="256.60" height="58.70" fill="none" stroke="#231f20" stroke-width="1.1" />
<line x1="162.60" y1="485.80" x2="419.20" y2="485.80" stroke="#231f20" stroke-width="1.2" />
<line x1="162.60" y1="505.50" x2="419.20" y2="505.50" stroke="#231f20" stroke-width="1.2" />
<line x1="282.40" y1="466.30" x2="282.40" y2="525.00" stroke="#231f20" stroke-width="1.1" />
<line x1="316.60" y1="466.30" x2="316.60" y2="525.00" stroke="#231f20" stroke-width="1.1" />
<line x1="350.60" y1="466.30" x2="350.60" y2="525.00" stroke="#231f20" stroke-width="1.1" />
<line x1="385.20" y1="466.30" x2="385.20" y2="525.00" stroke="#231f20" stroke-width="1.1" />
<text font-size="11.4" transform="translate(150.22,555.60) scale(1.698,1)">I</text>
<line x1="192.60" y1="546.80" x2="192.60" y2="624.90" stroke="#231f20" stroke-width="1.1" />
<line x1="192.20" y1="624.50" x2="307.40" y2="624.50" stroke="#231f20" stroke-width="1.1" />
<line x1="190.30" y1="549.70" x2="192.60" y2="549.70" stroke="#231f20" stroke-width="0.9" />
<text x="188.30" y="551.94" font-size="6.21" text-anchor="end">100</text>
<line x1="190.30" y1="587.10" x2="192.60" y2="587.10" stroke="#231f20" stroke-width="0.9" />
<text x="188.30" y="589.34" font-size="6.21" text-anchor="end">50</text>
<line x1="190.30" y1="624.50" x2="192.60" y2="624.50" stroke="#231f20" stroke-width="0.9" />
<text x="188.30" y="626.74" font-size="6.21" text-anchor="end">0</text>
<line x1="192.60" y1="624.50" x2="192.60" y2="626.90" stroke="#231f20" stroke-width="0.9" />
<text x="192.60" y="636.44" font-size="6.21" text-anchor="middle">0</text>
<line x1="230.00" y1="624.50" x2="230.00" y2="626.90" stroke="#231f20" stroke-width="0.9" />
<text x="230.00" y="636.44" font-size="6.21" text-anchor="middle">50</text>
<line x1="267.60" y1="624.50" x2="267.60" y2="626.90" stroke="#231f20" stroke-width="0.9" />
<text x="267.60" y="636.44" font-size="6.21" text-anchor="middle">100</text>
<line x1="305.10" y1="624.50" x2="305.10" y2="626.90" stroke="#231f20" stroke-width="0.9" />
<text x="305.10" y="636.44" font-size="6.21" text-anchor="middle">150</text>
<text x="250.00" y="648.83" font-size="8.13" text-anchor="middle" textLength="90.50" lengthAdjust="spacingAndGlyphs">Days post-transplantation</text>
<text x="168.80" y="588.57" font-size="8.24" text-anchor="middle" textLength="55.00" lengthAdjust="spacingAndGlyphs" transform="rotate(-90 168.80 585.60)">Percent survival</text>
<path d="M192.6,549.7 L261.9,549.7 L261.9,558.0 L263.4,558.0 L263.4,575.1 L265.0,575.1 L265.0,591.3 L277.0,591.3 M277.0,590.0 L277.0,592.6" stroke="#7ab648" stroke-width="1.0" fill="none" />
<path d="M203.6,549.7 L204.2,549.7 L204.2,587.3 L207.7,587.3 L207.7,605.8 L210.0,605.8 L210.0,615.0 L212.3,615.0 L212.3,624.5" stroke="#a3364a" stroke-width="1.0" fill="none" />
<path d="M204.4,577.0 L205.6,577.0 L205.6,587.3 M207.7,605.8 L208.6,605.8 L208.6,624.5" stroke="#4a6a9c" stroke-width="1.0" fill="none" />
<line x1="320.40" y1="571.10" x2="330.40" y2="571.10" stroke="#7ab648" stroke-width="0.9" />
<line x1="325.40" y1="570.10" x2="325.40" y2="571.40" stroke="#7ab648" stroke-width="0.6" />
<text x="333.20" y="572.87" font-size="4.92" textLength="21.00" lengthAdjust="spacingAndGlyphs">DN (N=8)</text>
<line x1="320.40" y1="580.90" x2="330.40" y2="580.90" stroke="#a3364a" stroke-width="0.9" />
<line x1="325.40" y1="579.90" x2="325.40" y2="581.20" stroke="#a3364a" stroke-width="0.6" />
<text x="333.20" y="582.67" font-size="4.92" textLength="20.00" lengthAdjust="spacingAndGlyphs">DP (N=8)</text>
<line x1="320.40" y1="590.80" x2="330.40" y2="590.80" stroke="#4a6a9c" stroke-width="0.9" />
<line x1="325.40" y1="589.80" x2="325.40" y2="591.10" stroke="#4a6a9c" stroke-width="0.6" />
<text x="333.20" y="592.57" font-size="4.92" textLength="32.60" lengthAdjust="spacingAndGlyphs">Total BM (N=8)</text>
<rect x="0.75" y="0.75" width="518.5" height="655.5" fill="none" stroke="#454545" stroke-width="1.5"/>
</svg>
</body></html>
